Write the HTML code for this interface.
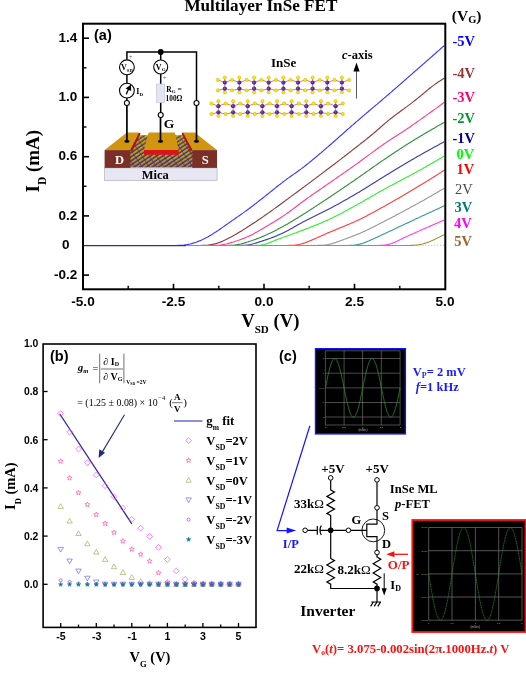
<!DOCTYPE html>
<html><head><meta charset="utf-8"><title>Multilayer InSe FET</title>
<style>
html,body{margin:0;padding:0;background:#fff;}
svg{display:block}
.sf{font-family:"Liberation Serif", "Times New Roman", serif;}
.ss{font-family:"Liberation Sans", Arial, sans-serif;}
text{white-space:pre}
</style></head><body>
<svg width="526" height="676" viewBox="0 0 526 676">
<rect width="526" height="676" fill="#fff"/>
<line x1="83" y1="245.3" x2="445.3" y2="245.3" stroke="#bbb" stroke-width="0.8" stroke-dasharray="1.5 1.5"/>
<path d="M83,245.5 L172.2,245.5 173.2,245.5 174.2,245.5 175.2,245.5 176.2,245.5 177.2,245.5 178.2,245.4 179.2,245.4 180.2,245.4 181.2,245.3 182.2,245.3 183.2,245.2 184.2,245.1 185.2,244.9 186.2,244.8 187.2,244.6 188.2,244.4 189.2,244.2 190.2,244.0 191.2,243.7 192.2,243.4 193.2,243.1 194.2,242.8 195.2,242.5 196.2,242.2 197.2,241.8 198.2,241.4 199.2,241.0 200.2,240.6 201.2,240.2 202.2,239.8 203.2,239.3 204.2,238.8 205.2,238.3 206.2,237.8 207.2,237.2 208.2,236.7 209.2,236.1 210.2,235.5 211.2,234.9 212.2,234.3 213.2,233.6 214.2,233.0 215.2,232.3 216.2,231.7 217.2,231.0 218.2,230.4 219.2,229.7 220.2,229.0 221.2,228.3 222.2,227.6 223.2,226.9 224.2,226.2 225.2,225.5 226.2,224.8 227.2,224.1 228.2,223.4 229.2,222.7 230.2,222.0 231.2,221.3 232.2,220.6 233.2,219.9 234.2,219.2 235.2,218.5 236.2,217.8 237.2,217.1 238.2,216.4 239.2,215.7 240.2,215.0 241.2,214.3 242.2,213.6 243.2,212.9 244.2,212.1 245.2,211.4 246.2,210.7 247.2,210.0 248.2,209.2 249.2,208.5 250.2,207.7 251.2,207.0 252.2,206.2 253.2,205.5 254.2,204.7 255.2,203.9 256.2,203.2 257.2,202.4 258.2,201.6 259.2,200.8 260.2,200.0 261.2,199.3 262.2,198.5 263.2,197.7 264.2,196.9 265.2,196.1 266.2,195.3 267.2,194.5 268.2,193.7 269.2,192.9 270.2,192.1 271.2,191.3 272.2,190.5 273.2,189.7 274.2,188.9 275.2,188.1 276.2,187.3 277.2,186.5 278.2,185.7 279.2,184.9 280.2,184.2 281.2,183.4 282.2,182.6 283.2,181.8 284.2,181.1 285.2,180.3 286.2,179.6 287.2,178.8 288.2,178.1 289.2,177.4 290.2,176.7 291.2,176.0 292.2,175.3 293.2,174.6 294.2,173.9 295.2,173.2 296.2,172.5 297.2,171.8 298.2,171.0 299.2,170.3 300.2,169.6 301.2,168.9 302.2,168.1 303.2,167.3 304.2,166.6 305.2,165.8 306.2,165.0 307.2,164.2 308.2,163.4 309.2,162.6 310.2,161.8 311.2,161.0 312.2,160.1 313.2,159.3 314.2,158.5 315.2,157.6 316.2,156.8 317.2,156.0 318.2,155.1 319.2,154.3 320.2,153.4 321.2,152.6 322.2,151.7 323.2,150.9 324.2,150.0 325.2,149.1 326.2,148.3 327.2,147.4 328.2,146.6 329.2,145.7 330.2,144.8 331.2,144.0 332.2,143.1 333.2,142.2 334.2,141.3 335.2,140.5 336.2,139.6 337.2,138.7 338.2,137.8 339.2,136.9 340.2,136.0 341.2,135.2 342.2,134.3 343.2,133.4 344.2,132.5 345.2,131.6 346.2,130.7 347.2,129.8 348.2,128.9 349.2,128.1 350.2,127.2 351.2,126.3 352.2,125.4 353.2,124.6 354.2,123.7 355.2,122.8 356.2,121.9 357.2,121.1 358.2,120.2 359.2,119.4 360.2,118.5 361.2,117.6 362.2,116.8 363.2,115.9 364.2,115.1 365.2,114.2 366.2,113.4 367.2,112.5 368.2,111.7 369.2,110.8 370.2,110.0 371.2,109.1 372.2,108.3 373.2,107.4 374.2,106.6 375.2,105.8 376.2,104.9 377.2,104.1 378.2,103.2 379.2,102.4 380.2,101.5 381.2,100.7 382.2,99.8 383.2,98.9 384.2,98.1 385.2,97.2 386.2,96.4 387.2,95.5 388.2,94.7 389.2,93.8 390.2,92.9 391.2,92.1 392.2,91.2 393.2,90.3 394.2,89.5 395.2,88.6 396.2,87.7 397.2,86.9 398.2,86.0 399.2,85.1 400.2,84.3 401.2,83.4 402.2,82.5 403.2,81.6 404.2,80.8 405.2,79.9 406.2,79.0 407.2,78.1 408.2,77.3 409.2,76.4 410.2,75.5 411.2,74.6 412.2,73.8 413.2,72.9 414.2,72.0 415.2,71.1 416.2,70.3 417.2,69.4 418.2,68.5 419.2,67.6 420.2,66.8 421.2,65.9 422.2,65.0 423.2,64.1 424.2,63.3 425.2,62.4 426.2,61.5 427.2,60.6 428.2,59.7 429.2,58.9 430.2,58.0 431.2,57.1 432.2,56.2 433.2,55.3 434.2,54.5 435.2,53.6 436.2,52.7 437.2,51.8 438.2,50.9 439.2,50.1 440.2,49.2 441.2,48.3 442.2,47.4 443.2,46.5 444.2,45.6" fill="none" stroke="#3a3aff" stroke-width="1.15" stroke-linejoin="round"/>
<path d="M83,245.5 L196.5,245.5 197.5,245.5 198.5,245.5 199.5,245.5 200.5,245.5 201.5,245.5 202.5,245.4 203.5,245.4 204.5,245.4 205.5,245.3 206.5,245.3 207.5,245.2 208.5,245.1 209.5,244.9 210.5,244.8 211.5,244.6 212.5,244.4 213.5,244.2 214.5,243.9 215.5,243.7 216.5,243.4 217.5,243.1 218.5,242.7 219.5,242.4 220.5,242.0 221.5,241.6 222.5,241.2 223.5,240.7 224.5,240.3 225.5,239.8 226.5,239.3 227.5,238.8 228.5,238.3 229.5,237.8 230.5,237.3 231.5,236.7 232.5,236.2 233.5,235.6 234.5,235.1 235.5,234.5 236.5,233.9 237.5,233.3 238.5,232.7 239.5,232.1 240.5,231.5 241.5,230.9 242.5,230.3 243.5,229.6 244.5,229.0 245.5,228.4 246.5,227.7 247.5,227.1 248.5,226.5 249.5,225.8 250.5,225.2 251.5,224.5 252.5,223.8 253.5,223.2 254.5,222.5 255.5,221.9 256.5,221.2 257.5,220.5 258.5,219.8 259.5,219.2 260.5,218.5 261.5,217.8 262.5,217.1 263.5,216.4 264.5,215.7 265.5,215.0 266.5,214.3 267.5,213.6 268.5,212.9 269.5,212.2 270.5,211.5 271.5,210.8 272.5,210.1 273.5,209.4 274.5,208.6 275.5,207.9 276.5,207.2 277.5,206.5 278.5,205.7 279.5,205.0 280.5,204.3 281.5,203.5 282.5,202.8 283.5,202.0 284.5,201.3 285.5,200.6 286.5,199.8 287.5,199.1 288.5,198.3 289.5,197.6 290.5,196.9 291.5,196.1 292.5,195.4 293.5,194.7 294.5,193.9 295.5,193.2 296.5,192.5 297.5,191.7 298.5,191.0 299.5,190.3 300.5,189.5 301.5,188.8 302.5,188.0 303.5,187.3 304.5,186.6 305.5,185.8 306.5,185.1 307.5,184.3 308.5,183.6 309.5,182.8 310.5,182.1 311.5,181.3 312.5,180.6 313.5,179.8 314.5,179.1 315.5,178.3 316.5,177.6 317.5,176.8 318.5,176.1 319.5,175.3 320.5,174.6 321.5,173.8 322.5,173.1 323.5,172.3 324.5,171.6 325.5,170.8 326.5,170.0 327.5,169.3 328.5,168.5 329.5,167.8 330.5,167.0 331.5,166.2 332.5,165.5 333.5,164.7 334.5,164.0 335.5,163.2 336.5,162.4 337.5,161.7 338.5,160.9 339.5,160.1 340.5,159.4 341.5,158.6 342.5,157.8 343.5,157.1 344.5,156.3 345.5,155.5 346.5,154.8 347.5,154.0 348.5,153.2 349.5,152.4 350.5,151.7 351.5,150.9 352.5,150.1 353.5,149.3 354.5,148.5 355.5,147.8 356.5,147.0 357.5,146.2 358.5,145.4 359.5,144.6 360.5,143.8 361.5,143.0 362.5,142.3 363.5,141.5 364.5,140.7 365.5,139.9 366.5,139.1 367.5,138.3 368.5,137.5 369.5,136.7 370.5,135.8 371.5,135.0 372.5,134.2 373.5,133.4 374.5,132.5 375.5,131.7 376.5,130.8 377.5,129.9 378.5,129.0 379.5,128.2 380.5,127.3 381.5,126.4 382.5,125.5 383.5,124.6 384.5,123.8 385.5,122.9 386.5,122.1 387.5,121.2 388.5,120.4 389.5,119.6 390.5,118.8 391.5,118.0 392.5,117.2 393.5,116.5 394.5,115.7 395.5,114.9 396.5,114.2 397.5,113.5 398.5,112.7 399.5,112.0 400.5,111.3 401.5,110.5 402.5,109.8 403.5,109.1 404.5,108.3 405.5,107.6 406.5,106.9 407.5,106.1 408.5,105.4 409.5,104.6 410.5,103.9 411.5,103.1 412.5,102.4 413.5,101.6 414.5,100.8 415.5,100.0 416.5,99.2 417.5,98.4 418.5,97.6 419.5,96.8 420.5,96.0 421.5,95.1 422.5,94.3 423.5,93.5 424.5,92.6 425.5,91.8 426.5,91.0 427.5,90.1 428.5,89.3 429.5,88.5 430.5,87.7 431.5,86.9 432.5,86.1 433.5,85.4 434.5,84.6 435.5,83.9 436.5,83.2 437.5,82.5 438.5,81.8 439.5,81.2 440.5,80.5 441.5,79.9 442.5,79.3 443.5,78.7 444.5,78.1" fill="none" stroke="#8e3b3b" stroke-width="1.15" stroke-linejoin="round"/>
<path d="M83,245.5 L209.3,245.5 210.3,245.5 211.3,245.5 212.3,245.5 213.3,245.5 214.3,245.4 215.3,245.4 216.3,245.4 217.3,245.3 218.3,245.3 219.3,245.2 220.3,245.1 221.3,244.9 222.3,244.8 223.3,244.6 224.3,244.4 225.3,244.2 226.3,244.0 227.3,243.7 228.3,243.4 229.3,243.2 230.3,242.9 231.3,242.6 232.3,242.3 233.3,242.0 234.3,241.7 235.3,241.3 236.3,241.0 237.3,240.7 238.3,240.3 239.3,240.0 240.3,239.6 241.3,239.3 242.3,238.9 243.3,238.5 244.3,238.1 245.3,237.7 246.3,237.3 247.3,236.8 248.3,236.4 249.3,235.9 250.3,235.4 251.3,234.9 252.3,234.4 253.3,233.9 254.3,233.4 255.3,232.8 256.3,232.3 257.3,231.7 258.3,231.2 259.3,230.6 260.3,230.0 261.3,229.5 262.3,228.9 263.3,228.3 264.3,227.7 265.3,227.1 266.3,226.5 267.3,225.9 268.3,225.3 269.3,224.7 270.3,224.1 271.3,223.5 272.3,222.9 273.3,222.3 274.3,221.7 275.3,221.0 276.3,220.4 277.3,219.8 278.3,219.2 279.3,218.5 280.3,217.9 281.3,217.3 282.3,216.6 283.3,215.9 284.3,215.3 285.3,214.6 286.3,213.9 287.3,213.2 288.3,212.5 289.3,211.8 290.3,211.0 291.3,210.3 292.3,209.6 293.3,208.8 294.3,208.0 295.3,207.3 296.3,206.5 297.3,205.7 298.3,205.0 299.3,204.2 300.3,203.4 301.3,202.7 302.3,202.0 303.3,201.2 304.3,200.5 305.3,199.8 306.3,199.0 307.3,198.3 308.3,197.6 309.3,196.9 310.3,196.2 311.3,195.5 312.3,194.8 313.3,194.1 314.3,193.4 315.3,192.7 316.3,192.0 317.3,191.3 318.3,190.7 319.3,190.0 320.3,189.3 321.3,188.6 322.3,187.9 323.3,187.2 324.3,186.5 325.3,185.8 326.3,185.1 327.3,184.4 328.3,183.7 329.3,183.0 330.3,182.4 331.3,181.7 332.3,181.0 333.3,180.3 334.3,179.6 335.3,178.9 336.3,178.2 337.3,177.5 338.3,176.8 339.3,176.1 340.3,175.4 341.3,174.7 342.3,174.0 343.3,173.3 344.3,172.6 345.3,171.9 346.3,171.2 347.3,170.5 348.3,169.8 349.3,169.1 350.3,168.4 351.3,167.7 352.3,167.0 353.3,166.3 354.3,165.6 355.3,164.8 356.3,164.1 357.3,163.4 358.3,162.7 359.3,162.0 360.3,161.2 361.3,160.5 362.3,159.8 363.3,159.0 364.3,158.3 365.3,157.6 366.3,156.8 367.3,156.1 368.3,155.3 369.3,154.6 370.3,153.9 371.3,153.1 372.3,152.4 373.3,151.6 374.3,150.9 375.3,150.2 376.3,149.4 377.3,148.7 378.3,148.0 379.3,147.3 380.3,146.6 381.3,145.9 382.3,145.2 383.3,144.5 384.3,143.8 385.3,143.1 386.3,142.4 387.3,141.7 388.3,141.1 389.3,140.4 390.3,139.8 391.3,139.1 392.3,138.5 393.3,137.8 394.3,137.2 395.3,136.5 396.3,135.9 397.3,135.3 398.3,134.6 399.3,134.0 400.3,133.3 401.3,132.7 402.3,132.0 403.3,131.4 404.3,130.7 405.3,130.1 406.3,129.4 407.3,128.7 408.3,128.0 409.3,127.4 410.3,126.7 411.3,126.0 412.3,125.3 413.3,124.6 414.3,123.9 415.3,123.2 416.3,122.5 417.3,121.8 418.3,121.1 419.3,120.4 420.3,119.6 421.3,118.9 422.3,118.2 423.3,117.5 424.3,116.8 425.3,116.1 426.3,115.4 427.3,114.6 428.3,113.9 429.3,113.2 430.3,112.5 431.3,111.8 432.3,111.0 433.3,110.3 434.3,109.6 435.3,108.9 436.3,108.1 437.3,107.4 438.3,106.7 439.3,105.9 440.3,105.2 441.3,104.5 442.3,103.7 443.3,103.0 444.3,102.3" fill="none" stroke="#ff3d8e" stroke-width="1.15" stroke-linejoin="round"/>
<path d="M83,245.5 L223.6,245.5 224.6,245.5 225.6,245.5 226.6,245.5 227.6,245.5 228.6,245.4 229.6,245.4 230.6,245.4 231.6,245.3 232.6,245.3 233.6,245.2 234.6,245.1 235.6,244.9 236.6,244.8 237.6,244.6 238.6,244.4 239.6,244.2 240.6,244.0 241.6,243.7 242.6,243.4 243.6,243.2 244.6,242.9 245.6,242.6 246.6,242.3 247.6,242.0 248.6,241.6 249.6,241.3 250.6,241.0 251.6,240.7 252.6,240.3 253.6,240.0 254.6,239.6 255.6,239.3 256.6,238.9 257.6,238.5 258.6,238.1 259.6,237.8 260.6,237.4 261.6,236.9 262.6,236.5 263.6,236.1 264.6,235.7 265.6,235.2 266.6,234.8 267.6,234.3 268.6,233.8 269.6,233.4 270.6,232.9 271.6,232.4 272.6,231.9 273.6,231.4 274.6,230.9 275.6,230.4 276.6,229.9 277.6,229.4 278.6,228.8 279.6,228.3 280.6,227.8 281.6,227.2 282.6,226.7 283.6,226.1 284.6,225.6 285.6,225.0 286.6,224.5 287.6,223.9 288.6,223.3 289.6,222.7 290.6,222.1 291.6,221.5 292.6,220.9 293.6,220.3 294.6,219.7 295.6,219.1 296.6,218.5 297.6,217.9 298.6,217.3 299.6,216.6 300.6,216.0 301.6,215.4 302.6,214.8 303.6,214.1 304.6,213.5 305.6,212.9 306.6,212.2 307.6,211.6 308.6,210.9 309.6,210.3 310.6,209.6 311.6,209.0 312.6,208.4 313.6,207.7 314.6,207.1 315.6,206.4 316.6,205.7 317.6,205.1 318.6,204.4 319.6,203.8 320.6,203.1 321.6,202.5 322.6,201.8 323.6,201.1 324.6,200.5 325.6,199.8 326.6,199.2 327.6,198.5 328.6,197.8 329.6,197.2 330.6,196.5 331.6,195.8 332.6,195.1 333.6,194.5 334.6,193.8 335.6,193.1 336.6,192.5 337.6,191.8 338.6,191.1 339.6,190.4 340.6,189.7 341.6,189.1 342.6,188.4 343.6,187.7 344.6,187.0 345.6,186.3 346.6,185.7 347.6,185.0 348.6,184.3 349.6,183.6 350.6,182.9 351.6,182.2 352.6,181.5 353.6,180.9 354.6,180.2 355.6,179.5 356.6,178.8 357.6,178.1 358.6,177.4 359.6,176.7 360.6,176.0 361.6,175.3 362.6,174.6 363.6,173.9 364.6,173.2 365.6,172.5 366.6,171.8 367.6,171.1 368.6,170.4 369.6,169.7 370.6,169.0 371.6,168.2 372.6,167.5 373.6,166.8 374.6,166.1 375.6,165.4 376.6,164.7 377.6,164.0 378.6,163.3 379.6,162.6 380.6,162.0 381.6,161.3 382.6,160.6 383.6,159.9 384.6,159.2 385.6,158.5 386.6,157.9 387.6,157.2 388.6,156.5 389.6,155.8 390.6,155.2 391.6,154.5 392.6,153.8 393.6,153.2 394.6,152.5 395.6,151.8 396.6,151.2 397.6,150.5 398.6,149.9 399.6,149.2 400.6,148.6 401.6,147.9 402.6,147.3 403.6,146.6 404.6,146.0 405.6,145.3 406.6,144.7 407.6,144.1 408.6,143.4 409.6,142.8 410.6,142.2 411.6,141.6 412.6,140.9 413.6,140.3 414.6,139.7 415.6,139.1 416.6,138.5 417.6,137.9 418.6,137.3 419.6,136.7 420.6,136.1 421.6,135.5 422.6,134.9 423.6,134.3 424.6,133.7 425.6,133.1 426.6,132.5 427.6,131.9 428.6,131.3 429.6,130.7 430.6,130.2 431.6,129.6 432.6,129.0 433.6,128.4 434.6,127.9 435.6,127.3 436.6,126.7 437.6,126.1 438.6,125.6 439.6,125.0 440.6,124.5 441.6,123.9 442.6,123.3 443.6,122.8 444.6,122.2" fill="none" stroke="#2f8f3a" stroke-width="1.15" stroke-linejoin="round"/>
<path d="M83,245.5 L236.4,245.5 237.4,245.5 238.4,245.5 239.4,245.5 240.4,245.5 241.4,245.4 242.4,245.4 243.4,245.4 244.4,245.3 245.4,245.2 246.4,245.1 247.4,245.0 248.4,244.9 249.4,244.7 250.4,244.5 251.4,244.2 252.4,244.0 253.4,243.7 254.4,243.5 255.4,243.2 256.4,242.9 257.4,242.5 258.4,242.2 259.4,241.9 260.4,241.6 261.4,241.3 262.4,240.9 263.4,240.6 264.4,240.3 265.4,239.9 266.4,239.6 267.4,239.2 268.4,238.9 269.4,238.5 270.4,238.2 271.4,237.8 272.4,237.4 273.4,237.1 274.4,236.7 275.4,236.3 276.4,235.9 277.4,235.4 278.4,235.0 279.4,234.6 280.4,234.1 281.4,233.7 282.4,233.2 283.4,232.7 284.4,232.2 285.4,231.7 286.4,231.2 287.4,230.7 288.4,230.2 289.4,229.6 290.4,229.1 291.4,228.5 292.4,228.0 293.4,227.4 294.4,226.8 295.4,226.3 296.4,225.7 297.4,225.1 298.4,224.5 299.4,224.0 300.4,223.4 301.4,222.9 302.4,222.3 303.4,221.8 304.4,221.3 305.4,220.8 306.4,220.3 307.4,219.7 308.4,219.2 309.4,218.7 310.4,218.2 311.4,217.7 312.4,217.3 313.4,216.8 314.4,216.3 315.4,215.8 316.4,215.3 317.4,214.8 318.4,214.3 319.4,213.8 320.4,213.3 321.4,212.8 322.4,212.3 323.4,211.8 324.4,211.3 325.4,210.8 326.4,210.3 327.4,209.8 328.4,209.3 329.4,208.8 330.4,208.2 331.4,207.7 332.4,207.2 333.4,206.6 334.4,206.1 335.4,205.5 336.4,205.0 337.4,204.5 338.4,203.9 339.4,203.4 340.4,202.8 341.4,202.2 342.4,201.7 343.4,201.1 344.4,200.6 345.4,200.0 346.4,199.4 347.4,198.9 348.4,198.3 349.4,197.7 350.4,197.1 351.4,196.6 352.4,196.0 353.4,195.4 354.4,194.8 355.4,194.2 356.4,193.6 357.4,193.0 358.4,192.5 359.4,191.9 360.4,191.3 361.4,190.6 362.4,190.0 363.4,189.4 364.4,188.8 365.4,188.2 366.4,187.6 367.4,187.0 368.4,186.3 369.4,185.7 370.4,185.1 371.4,184.5 372.4,183.8 373.4,183.2 374.4,182.6 375.4,182.0 376.4,181.3 377.4,180.7 378.4,180.1 379.4,179.4 380.4,178.8 381.4,178.2 382.4,177.6 383.4,177.0 384.4,176.3 385.4,175.7 386.4,175.1 387.4,174.5 388.4,173.9 389.4,173.3 390.4,172.7 391.4,172.1 392.4,171.5 393.4,170.8 394.4,170.2 395.4,169.6 396.4,169.0 397.4,168.4 398.4,167.8 399.4,167.2 400.4,166.6 401.4,166.0 402.4,165.4 403.4,164.8 404.4,164.2 405.4,163.6 406.4,163.0 407.4,162.4 408.4,161.8 409.4,161.3 410.4,160.7 411.4,160.1 412.4,159.5 413.4,158.9 414.4,158.3 415.4,157.8 416.4,157.2 417.4,156.6 418.4,156.0 419.4,155.5 420.4,154.9 421.4,154.3 422.4,153.8 423.4,153.2 424.4,152.6 425.4,152.1 426.4,151.5 427.4,151.0 428.4,150.4 429.4,149.8 430.4,149.3 431.4,148.7 432.4,148.2 433.4,147.6 434.4,147.1 435.4,146.5 436.4,146.0 437.4,145.4 438.4,144.9 439.4,144.3 440.4,143.8 441.4,143.3 442.4,142.7 443.4,142.2 444.4,141.6" fill="none" stroke="#3a3ab8" stroke-width="1.15" stroke-linejoin="round"/>
<path d="M83,245.5 L252.1,245.5 253.1,245.5 254.1,245.5 255.1,245.5 256.1,245.4 257.1,245.4 258.1,245.4 259.1,245.3 260.1,245.2 261.1,245.1 262.1,244.9 263.1,244.7 264.1,244.5 265.1,244.2 266.1,243.9 267.1,243.6 268.1,243.2 269.1,242.8 270.1,242.4 271.1,242.0 272.1,241.6 273.1,241.2 274.1,240.8 275.1,240.4 276.1,240.0 277.1,239.6 278.1,239.2 279.1,238.8 280.1,238.4 281.1,238.1 282.1,237.7 283.1,237.3 284.1,237.0 285.1,236.6 286.1,236.3 287.1,235.9 288.1,235.6 289.1,235.2 290.1,234.8 291.1,234.5 292.1,234.1 293.1,233.8 294.1,233.4 295.1,233.0 296.1,232.7 297.1,232.3 298.1,231.9 299.1,231.6 300.1,231.2 301.1,230.8 302.1,230.4 303.1,230.1 304.1,229.7 305.1,229.3 306.1,228.9 307.1,228.5 308.1,228.2 309.1,227.8 310.1,227.4 311.1,227.0 312.1,226.6 313.1,226.2 314.1,225.8 315.1,225.4 316.1,225.0 317.1,224.6 318.1,224.2 319.1,223.8 320.1,223.4 321.1,223.0 322.1,222.6 323.1,222.1 324.1,221.7 325.1,221.3 326.1,220.8 327.1,220.4 328.1,219.9 329.1,219.5 330.1,219.0 331.1,218.5 332.1,218.1 333.1,217.6 334.1,217.1 335.1,216.6 336.1,216.1 337.1,215.6 338.1,215.0 339.1,214.5 340.1,214.0 341.1,213.5 342.1,212.9 343.1,212.4 344.1,211.8 345.1,211.3 346.1,210.8 347.1,210.2 348.1,209.7 349.1,209.1 350.1,208.6 351.1,208.0 352.1,207.4 353.1,206.9 354.1,206.3 355.1,205.8 356.1,205.2 357.1,204.7 358.1,204.1 359.1,203.5 360.1,203.0 361.1,202.4 362.1,201.9 363.1,201.3 364.1,200.7 365.1,200.1 366.1,199.6 367.1,199.0 368.1,198.4 369.1,197.9 370.1,197.3 371.1,196.7 372.1,196.1 373.1,195.5 374.1,195.0 375.1,194.4 376.1,193.8 377.1,193.3 378.1,192.7 379.1,192.1 380.1,191.5 381.1,191.0 382.1,190.4 383.1,189.9 384.1,189.3 385.1,188.8 386.1,188.2 387.1,187.7 388.1,187.1 389.1,186.6 390.1,186.0 391.1,185.5 392.1,185.0 393.1,184.4 394.1,183.9 395.1,183.4 396.1,182.9 397.1,182.3 398.1,181.8 399.1,181.3 400.1,180.8 401.1,180.2 402.1,179.7 403.1,179.2 404.1,178.7 405.1,178.1 406.1,177.6 407.1,177.1 408.1,176.5 409.1,176.0 410.1,175.5 411.1,174.9 412.1,174.4 413.1,173.8 414.1,173.3 415.1,172.8 416.1,172.2 417.1,171.6 418.1,171.1 419.1,170.5 420.1,170.0 421.1,169.4 422.1,168.9 423.1,168.3 424.1,167.7 425.1,167.2 426.1,166.6 427.1,166.0 428.1,165.5 429.1,164.9 430.1,164.3 431.1,163.7 432.1,163.2 433.1,162.6 434.1,162.0 435.1,161.4 436.1,160.8 437.1,160.2 438.1,159.7 439.1,159.1 440.1,158.5 441.1,157.9 442.1,157.3 443.1,156.7 444.1,156.2" fill="none" stroke="#33ee33" stroke-width="1.15" stroke-linejoin="round"/>
<path d="M83,245.5 L282.0,245.5 283.0,245.5 284.0,245.5 285.0,245.5 286.0,245.5 287.0,245.5 288.0,245.5 289.0,245.4 290.0,245.4 291.0,245.4 292.0,245.3 293.0,245.3 294.0,245.2 295.0,245.1 296.0,245.0 297.0,244.8 298.0,244.7 299.0,244.5 300.0,244.3 301.0,244.0 302.0,243.7 303.0,243.4 304.0,243.1 305.0,242.8 306.0,242.4 307.0,242.0 308.0,241.6 309.0,241.2 310.0,240.8 311.0,240.4 312.0,239.9 313.0,239.5 314.0,239.1 315.0,238.6 316.0,238.2 317.0,237.7 318.0,237.3 319.0,236.9 320.0,236.4 321.0,236.0 322.0,235.5 323.0,235.1 324.0,234.7 325.0,234.2 326.0,233.8 327.0,233.3 328.0,232.9 329.0,232.5 330.0,232.1 331.0,231.6 332.0,231.2 333.0,230.8 334.0,230.4 335.0,230.0 336.0,229.6 337.0,229.1 338.0,228.7 339.0,228.3 340.0,227.9 341.0,227.5 342.0,227.1 343.0,226.7 344.0,226.3 345.0,225.9 346.0,225.4 347.0,225.0 348.0,224.6 349.0,224.2 350.0,223.8 351.0,223.3 352.0,222.9 353.0,222.4 354.0,222.0 355.0,221.5 356.0,221.1 357.0,220.6 358.0,220.1 359.0,219.7 360.0,219.2 361.0,218.7 362.0,218.2 363.0,217.7 364.0,217.2 365.0,216.7 366.0,216.2 367.0,215.7 368.0,215.1 369.0,214.6 370.0,214.1 371.0,213.5 372.0,213.0 373.0,212.5 374.0,211.9 375.0,211.4 376.0,210.8 377.0,210.3 378.0,209.7 379.0,209.2 380.0,208.6 381.0,208.1 382.0,207.5 383.0,207.0 384.0,206.4 385.0,205.9 386.0,205.3 387.0,204.7 388.0,204.2 389.0,203.6 390.0,203.0 391.0,202.5 392.0,201.9 393.0,201.3 394.0,200.8 395.0,200.2 396.0,199.6 397.0,199.1 398.0,198.5 399.0,197.9 400.0,197.3 401.0,196.7 402.0,196.2 403.0,195.6 404.0,195.0 405.0,194.4 406.0,193.8 407.0,193.2 408.0,192.6 409.0,192.0 410.0,191.4 411.0,190.8 412.0,190.2 413.0,189.6 414.0,189.0 415.0,188.4 416.0,187.8 417.0,187.2 418.0,186.6 419.0,186.0 420.0,185.4 421.0,184.8 422.0,184.2 423.0,183.6 424.0,183.0 425.0,182.4 426.0,181.8 427.0,181.1 428.0,180.5 429.0,179.9 430.0,179.3 431.0,178.7 432.0,178.0 433.0,177.4 434.0,176.8 435.0,176.2 436.0,175.5 437.0,174.9 438.0,174.3 439.0,173.6 440.0,173.0 441.0,172.4 442.0,171.7 443.0,171.1 444.0,170.5 445.0,169.9" fill="none" stroke="#ff4040" stroke-width="1.15" stroke-linejoin="round"/>
<path d="M83,245.5 L312.2,245.5 313.2,245.5 314.2,245.5 315.2,245.5 316.2,245.5 317.2,245.5 318.2,245.4 319.2,245.4 320.2,245.4 321.2,245.3 322.2,245.3 323.2,245.2 324.2,245.1 325.2,245.0 326.2,244.8 327.2,244.7 328.2,244.5 329.2,244.3 330.2,244.1 331.2,243.8 332.2,243.5 333.2,243.2 334.2,242.9 335.2,242.6 336.2,242.3 337.2,241.9 338.2,241.5 339.2,241.2 340.2,240.8 341.2,240.4 342.2,240.1 343.2,239.7 344.2,239.3 345.2,239.0 346.2,238.6 347.2,238.2 348.2,237.9 349.2,237.5 350.2,237.1 351.2,236.8 352.2,236.4 353.2,236.0 354.2,235.6 355.2,235.2 356.2,234.8 357.2,234.4 358.2,234.0 359.2,233.6 360.2,233.2 361.2,232.7 362.2,232.3 363.2,231.8 364.2,231.4 365.2,230.9 366.2,230.4 367.2,230.0 368.2,229.5 369.2,229.0 370.2,228.5 371.2,228.0 372.2,227.5 373.2,227.0 374.2,226.5 375.2,226.0 376.2,225.5 377.2,225.0 378.2,224.4 379.2,223.9 380.2,223.4 381.2,222.9 382.2,222.4 383.2,221.9 384.2,221.4 385.2,220.8 386.2,220.3 387.2,219.8 388.2,219.3 389.2,218.8 390.2,218.3 391.2,217.7 392.2,217.2 393.2,216.7 394.2,216.2 395.2,215.7 396.2,215.1 397.2,214.6 398.2,214.1 399.2,213.5 400.2,213.0 401.2,212.5 402.2,212.0 403.2,211.4 404.2,210.9 405.2,210.3 406.2,209.8 407.2,209.3 408.2,208.7 409.2,208.2 410.2,207.6 411.2,207.1 412.2,206.5 413.2,206.0 414.2,205.4 415.2,204.9 416.2,204.3 417.2,203.8 418.2,203.2 419.2,202.7 420.2,202.1 421.2,201.5 422.2,201.0 423.2,200.4 424.2,199.9 425.2,199.3 426.2,198.7 427.2,198.2 428.2,197.6 429.2,197.0 430.2,196.4 431.2,195.9 432.2,195.3 433.2,194.7 434.2,194.1 435.2,193.5 436.2,193.0 437.2,192.4 438.2,191.8 439.2,191.2 440.2,190.6 441.2,190.0 442.2,189.4 443.2,188.9 444.2,188.3" fill="none" stroke="#999999" stroke-width="1.15" stroke-linejoin="round"/>
<path d="M83,245.5 L343.6,245.5 344.6,245.5 345.6,245.5 346.6,245.5 347.6,245.5 348.6,245.5 349.6,245.4 350.6,245.4 351.6,245.4 352.6,245.3 353.6,245.2 354.6,245.1 355.6,245.0 356.6,244.8 357.6,244.6 358.6,244.4 359.6,244.2 360.6,243.9 361.6,243.6 362.6,243.3 363.6,242.9 364.6,242.6 365.6,242.2 366.6,241.8 367.6,241.4 368.6,241.0 369.6,240.5 370.6,240.1 371.6,239.6 372.6,239.2 373.6,238.7 374.6,238.3 375.6,237.8 376.6,237.4 377.6,236.9 378.6,236.4 379.6,236.0 380.6,235.5 381.6,235.0 382.6,234.6 383.6,234.1 384.6,233.7 385.6,233.2 386.6,232.7 387.6,232.3 388.6,231.8 389.6,231.3 390.6,230.9 391.6,230.4 392.6,229.9 393.6,229.4 394.6,229.0 395.6,228.5 396.6,228.0 397.6,227.6 398.6,227.1 399.6,226.6 400.6,226.1 401.6,225.7 402.6,225.2 403.6,224.7 404.6,224.3 405.6,223.8 406.6,223.3 407.6,222.9 408.6,222.4 409.6,221.9 410.6,221.4 411.6,221.0 412.6,220.5 413.6,220.0 414.6,219.6 415.6,219.1 416.6,218.6 417.6,218.2 418.6,217.7 419.6,217.2 420.6,216.8 421.6,216.3 422.6,215.8 423.6,215.4 424.6,214.9 425.6,214.5 426.6,214.0 427.6,213.5 428.6,213.1 429.6,212.6 430.6,212.1 431.6,211.7 432.6,211.2 433.6,210.7 434.6,210.3 435.6,209.8 436.6,209.4 437.6,208.9 438.6,208.4 439.6,208.0 440.6,207.5 441.6,207.1 442.6,206.6 443.6,206.1 444.6,205.7" fill="none" stroke="#3a9a9a" stroke-width="1.15" stroke-linejoin="round"/>
<path d="M83,245.5 L373.5,245.5 374.5,245.5 375.5,245.5 376.5,245.5 377.5,245.5 378.5,245.5 379.5,245.4 380.5,245.4 381.5,245.4 382.5,245.3 383.5,245.2 384.5,245.1 385.5,245.0 386.5,244.8 387.5,244.6 388.5,244.4 389.5,244.1 390.5,243.8 391.5,243.5 392.5,243.1 393.5,242.7 394.5,242.3 395.5,241.9 396.5,241.4 397.5,240.9 398.5,240.5 399.5,240.0 400.5,239.5 401.5,239.0 402.5,238.5 403.5,238.1 404.5,237.6 405.5,237.1 406.5,236.7 407.5,236.2 408.5,235.7 409.5,235.3 410.5,234.8 411.5,234.4 412.5,233.9 413.5,233.5 414.5,233.0 415.5,232.6 416.5,232.1 417.5,231.7 418.5,231.2 419.5,230.8 420.5,230.3 421.5,229.9 422.5,229.5 423.5,229.0 424.5,228.6 425.5,228.1 426.5,227.7 427.5,227.3 428.5,226.8 429.5,226.4 430.5,225.9 431.5,225.5 432.5,225.1 433.5,224.6 434.5,224.2 435.5,223.8 436.5,223.4 437.5,222.9 438.5,222.5 439.5,222.1 440.5,221.6 441.5,221.2 442.5,220.8 443.5,220.4 444.5,219.9" fill="none" stroke="#ff40ff" stroke-width="1.15" stroke-linejoin="round"/>
<path d="M83,245.5 L403.5,245.5 404.5,245.5 405.5,245.5 406.5,245.5 407.5,245.5 408.5,245.5 409.5,245.5 410.5,245.4 411.5,245.4 412.5,245.4 413.5,245.3 414.5,245.3 415.5,245.2 416.5,245.1 417.5,245.0 418.5,244.8 419.5,244.6 420.5,244.4 421.5,244.2 422.5,244.0 423.5,243.7 424.5,243.4 425.5,243.1 426.5,242.8 427.5,242.4 428.5,242.1 429.5,241.7 430.5,241.2 431.5,240.8 432.5,240.4 433.5,239.9 434.5,239.4 435.5,239.0 436.5,238.5 437.5,238.0 438.5,237.5 439.5,237.0 440.5,236.4 441.5,235.9 442.5,235.4 443.5,234.9 444.5,234.3" fill="none" stroke="#9a9a3a" stroke-width="1.15" stroke-linejoin="round"/>
<line x1="83" y1="245.5" x2="186" y2="245.5" stroke="#34347c" stroke-width="1.25"/>
<rect x="83" y="23.7" width="362.3" height="265.6" fill="none" stroke="#000" stroke-width="2"/>
<line x1="83" y1="38.2" x2="89" y2="38.2" stroke="#000" stroke-width="1.6"/>
<text class="ss" x="77.3" y="41.8" fill="#000" text-anchor="end" style="font-size:13.5px;font-weight:bold;" >1.4</text>
<line x1="83" y1="97.4" x2="89" y2="97.4" stroke="#000" stroke-width="1.6"/>
<text class="ss" x="77.3" y="101.0" fill="#000" text-anchor="end" style="font-size:13.5px;font-weight:bold;" >1.0</text>
<line x1="83" y1="156.7" x2="89" y2="156.7" stroke="#000" stroke-width="1.6"/>
<text class="ss" x="77.3" y="160.3" fill="#000" text-anchor="end" style="font-size:13.5px;font-weight:bold;" >0.6</text>
<line x1="83" y1="215.9" x2="89" y2="215.9" stroke="#000" stroke-width="1.6"/>
<text class="ss" x="77.3" y="219.5" fill="#000" text-anchor="end" style="font-size:13.5px;font-weight:bold;" >0.2</text>
<text class="ss" x="65.8" y="249.3" fill="#000" text-anchor="middle" style="font-size:13.5px;font-weight:bold;" >0</text>
<line x1="83" y1="275.1" x2="89" y2="275.1" stroke="#000" stroke-width="1.6"/>
<text class="ss" x="77.3" y="278.7" fill="#000" text-anchor="end" style="font-size:13.5px;font-weight:bold;" >-0.2</text>
<line x1="83" y1="67.8" x2="86.5" y2="67.8" stroke="#000" stroke-width="1.4"/>
<line x1="83" y1="127.0" x2="86.5" y2="127.0" stroke="#000" stroke-width="1.4"/>
<line x1="83" y1="186.3" x2="86.5" y2="186.3" stroke="#000" stroke-width="1.4"/>
<text class="ss" x="83.0" y="306.4" fill="#000" text-anchor="middle" style="font-size:13.6px;font-weight:bold;" >-5.0</text>
<line x1="173.5" y1="289.3" x2="173.5" y2="283.8" stroke="#000" stroke-width="1.6"/>
<text class="ss" x="173.5" y="306.4" fill="#000" text-anchor="middle" style="font-size:13.6px;font-weight:bold;" >-2.5</text>
<line x1="264.0" y1="289.3" x2="264.0" y2="283.8" stroke="#000" stroke-width="1.6"/>
<text class="ss" x="264.0" y="306.4" fill="#000" text-anchor="middle" style="font-size:13.6px;font-weight:bold;" >0.0</text>
<line x1="354.5" y1="289.3" x2="354.5" y2="283.8" stroke="#000" stroke-width="1.6"/>
<text class="ss" x="354.5" y="306.4" fill="#000" text-anchor="middle" style="font-size:13.6px;font-weight:bold;" >2.5</text>
<text class="ss" x="445.0" y="306.4" fill="#000" text-anchor="middle" style="font-size:13.6px;font-weight:bold;" >5.0</text>
<line x1="128.2" y1="289.3" x2="128.2" y2="285.8" stroke="#000" stroke-width="1.4"/>
<line x1="218.8" y1="289.3" x2="218.8" y2="285.8" stroke="#000" stroke-width="1.4"/>
<line x1="309.2" y1="289.3" x2="309.2" y2="285.8" stroke="#000" stroke-width="1.4"/>
<line x1="399.8" y1="289.3" x2="399.8" y2="285.8" stroke="#000" stroke-width="1.4"/>
<text class="sf" x="260.9" y="10.9" fill="#000" text-anchor="middle" style="font-size:17px;font-weight:bold;" textLength="153" lengthAdjust="spacingAndGlyphs">Multilayer InSe FET</text>
<text class="ss" x="94.0" y="40.3" fill="#000" text-anchor="start" style="font-size:14.5px;font-weight:bold;" >(a)</text>
<text class="sf" transform="translate(38.5,192.5) rotate(-90)" style="font-size:19px;font-weight:bold">I<tspan dy="7" style="font-size:11.5px">D</tspan><tspan dy="-7"> (mA)</tspan></text>
<text class="sf" x="241.2" y="326.6" style="font-size:18.7px;font-weight:bold">V<tspan dy="6.6" style="font-size:11px">SD</tspan><tspan dy="-6.6"> (V)</tspan></text>
<text class="sf" x="451.8" y="20.8" style="font-size:15.5px;font-weight:bold">(V<tspan dy="2.5" style="font-size:10.5px">G</tspan><tspan dy="-2.5">)</tspan></text>
<text class="sf" x="452.5" y="46.1" fill="#0000ff" text-anchor="start" style="font-size:14.5px;font-weight:bold;" >-5V</text>
<text class="sf" x="452.5" y="78.0" fill="#993333" text-anchor="start" style="font-size:14.5px;font-weight:bold;" >-4V</text>
<text class="sf" x="452.5" y="101.8" fill="#ff0066" text-anchor="start" style="font-size:14.5px;font-weight:bold;" >-3V</text>
<text class="sf" x="452.5" y="122.5" fill="#009933" text-anchor="start" style="font-size:14.5px;font-weight:bold;" >-2V</text>
<text class="sf" x="452.5" y="142.5" fill="#000099" text-anchor="start" style="font-size:14.5px;font-weight:bold;" >-1V</text>
<text class="sf" x="456.5" y="158.5" fill="#00ff00" text-anchor="start" style="font-size:14.5px;font-weight:bold;" >0V</text>
<text class="sf" x="456.5" y="174.2" fill="#ff0000" text-anchor="start" style="font-size:14.5px;font-weight:bold;" >1V</text>
<text class="sf" x="455.0" y="194.4" fill="#484848" text-anchor="start" style="font-size:14.5px;font-weight:normal;" >2V</text>
<text class="sf" x="454.5" y="212.3" fill="#007777" text-anchor="start" style="font-size:14.5px;font-weight:bold;" >3V</text>
<text class="sf" x="454.0" y="227.8" fill="#ff00ff" text-anchor="start" style="font-size:14.5px;font-weight:bold;" >4V</text>
<text class="sf" x="454.3" y="245.8" fill="#996633" text-anchor="start" style="font-size:14.5px;font-weight:bold;" >5V</text>
<text class="sf" x="342" y="59" style="font-size:12.5px;font-weight:bold"><tspan style="font-style:italic">c</tspan>-axis</text>
<line x1="356.5" y1="98.6" x2="356.5" y2="70" stroke="#000" stroke-width="0.65"/>
<path d="M356.5,62.5 L359.6,71.5 L353.4,71.5 Z" fill="#000"/>
<text class="sf" x="271.0" y="66.7" fill="#000" text-anchor="start" style="font-size:13px;font-weight:bold;" >InSe</text>
<path d="M224.8,82.6 V88.7 M224.8,82.6 L224.8,77.6 M224.8,82.6 L217.8,79.9 M224.8,82.6 L232.0,79.9 M224.8,88.7 L224.8,92.3 M224.8,88.7 L217.8,90.4 M224.8,88.7 L232.0,90.4" stroke="#c8785a" stroke-width="0.9" fill="none"/><path d="M239.4,82.6 V88.7 M239.4,82.6 L239.4,77.6 M239.4,82.6 L232.4,79.9 M239.4,82.6 L246.6,79.9 M239.4,88.7 L239.4,92.3 M239.4,88.7 L232.4,90.4 M239.4,88.7 L246.6,90.4" stroke="#c8785a" stroke-width="0.9" fill="none"/><path d="M254.1,82.6 V88.7 M254.1,82.6 L254.1,77.6 M254.1,82.6 L247.1,79.9 M254.1,82.6 L261.3,79.9 M254.1,88.7 L254.1,92.3 M254.1,88.7 L247.1,90.4 M254.1,88.7 L261.3,90.4" stroke="#c8785a" stroke-width="0.9" fill="none"/><path d="M268.7,82.6 V88.7 M268.7,82.6 L268.7,77.6 M268.7,82.6 L261.7,79.9 M268.7,82.6 L275.9,79.9 M268.7,88.7 L268.7,92.3 M268.7,88.7 L261.7,90.4 M268.7,88.7 L275.9,90.4" stroke="#c8785a" stroke-width="0.9" fill="none"/><path d="M283.4,82.6 V88.7 M283.4,82.6 L283.4,77.6 M283.4,82.6 L276.4,79.9 M283.4,82.6 L290.6,79.9 M283.4,88.7 L283.4,92.3 M283.4,88.7 L276.4,90.4 M283.4,88.7 L290.6,90.4" stroke="#c8785a" stroke-width="0.9" fill="none"/><path d="M298.0,82.6 V88.7 M298.0,82.6 L298.0,77.6 M298.0,82.6 L291.0,79.9 M298.0,82.6 L305.2,79.9 M298.0,88.7 L298.0,92.3 M298.0,88.7 L291.0,90.4 M298.0,88.7 L305.2,90.4" stroke="#c8785a" stroke-width="0.9" fill="none"/><path d="M312.6,82.6 V88.7 M312.6,82.6 L312.6,77.6 M312.6,82.6 L305.6,79.9 M312.6,82.6 L319.8,79.9 M312.6,88.7 L312.6,92.3 M312.6,88.7 L305.6,90.4 M312.6,88.7 L319.8,90.4" stroke="#c8785a" stroke-width="0.9" fill="none"/><path d="M327.3,82.6 V88.7 M327.3,82.6 L327.3,77.6 M327.3,82.6 L320.3,79.9 M327.3,82.6 L334.5,79.9 M327.3,88.7 L327.3,92.3 M327.3,88.7 L320.3,90.4 M327.3,88.7 L334.5,90.4" stroke="#c8785a" stroke-width="0.9" fill="none"/><path d="M341.9,82.6 V88.7 M341.9,82.6 L341.9,77.6 M341.9,82.6 L334.9,79.9 M341.9,82.6 L349.1,79.9 M341.9,88.7 L341.9,92.3 M341.9,88.7 L334.9,90.4 M341.9,88.7 L349.1,90.4" stroke="#c8785a" stroke-width="0.9" fill="none"/>
<circle cx="224.8" cy="77.6" r="1.65" fill="#ffe600" stroke="#c8a800" stroke-width="0.45"/>
<circle cx="224.8" cy="92.3" r="1.65" fill="#ffe600" stroke="#c8a800" stroke-width="0.45"/>
<circle cx="232.0" cy="79.9" r="1.65" fill="#ffe600" stroke="#c8a800" stroke-width="0.45"/>
<circle cx="232.0" cy="90.4" r="1.65" fill="#ffe600" stroke="#c8a800" stroke-width="0.45"/>
<circle cx="217.8" cy="79.9" r="1.65" fill="#ffe600" stroke="#c8a800" stroke-width="0.45"/>
<circle cx="217.8" cy="90.4" r="1.65" fill="#ffe600" stroke="#c8a800" stroke-width="0.45"/>
<circle cx="239.4" cy="77.6" r="1.65" fill="#ffe600" stroke="#c8a800" stroke-width="0.45"/>
<circle cx="239.4" cy="92.3" r="1.65" fill="#ffe600" stroke="#c8a800" stroke-width="0.45"/>
<circle cx="246.6" cy="79.9" r="1.65" fill="#ffe600" stroke="#c8a800" stroke-width="0.45"/>
<circle cx="246.6" cy="90.4" r="1.65" fill="#ffe600" stroke="#c8a800" stroke-width="0.45"/>
<circle cx="254.1" cy="77.6" r="1.65" fill="#ffe600" stroke="#c8a800" stroke-width="0.45"/>
<circle cx="254.1" cy="92.3" r="1.65" fill="#ffe600" stroke="#c8a800" stroke-width="0.45"/>
<circle cx="261.3" cy="79.9" r="1.65" fill="#ffe600" stroke="#c8a800" stroke-width="0.45"/>
<circle cx="261.3" cy="90.4" r="1.65" fill="#ffe600" stroke="#c8a800" stroke-width="0.45"/>
<circle cx="268.7" cy="77.6" r="1.65" fill="#ffe600" stroke="#c8a800" stroke-width="0.45"/>
<circle cx="268.7" cy="92.3" r="1.65" fill="#ffe600" stroke="#c8a800" stroke-width="0.45"/>
<circle cx="275.9" cy="79.9" r="1.65" fill="#ffe600" stroke="#c8a800" stroke-width="0.45"/>
<circle cx="275.9" cy="90.4" r="1.65" fill="#ffe600" stroke="#c8a800" stroke-width="0.45"/>
<circle cx="283.4" cy="77.6" r="1.65" fill="#ffe600" stroke="#c8a800" stroke-width="0.45"/>
<circle cx="283.4" cy="92.3" r="1.65" fill="#ffe600" stroke="#c8a800" stroke-width="0.45"/>
<circle cx="290.6" cy="79.9" r="1.65" fill="#ffe600" stroke="#c8a800" stroke-width="0.45"/>
<circle cx="290.6" cy="90.4" r="1.65" fill="#ffe600" stroke="#c8a800" stroke-width="0.45"/>
<circle cx="298.0" cy="77.6" r="1.65" fill="#ffe600" stroke="#c8a800" stroke-width="0.45"/>
<circle cx="298.0" cy="92.3" r="1.65" fill="#ffe600" stroke="#c8a800" stroke-width="0.45"/>
<circle cx="305.2" cy="79.9" r="1.65" fill="#ffe600" stroke="#c8a800" stroke-width="0.45"/>
<circle cx="305.2" cy="90.4" r="1.65" fill="#ffe600" stroke="#c8a800" stroke-width="0.45"/>
<circle cx="312.6" cy="77.6" r="1.65" fill="#ffe600" stroke="#c8a800" stroke-width="0.45"/>
<circle cx="312.6" cy="92.3" r="1.65" fill="#ffe600" stroke="#c8a800" stroke-width="0.45"/>
<circle cx="319.8" cy="79.9" r="1.65" fill="#ffe600" stroke="#c8a800" stroke-width="0.45"/>
<circle cx="319.8" cy="90.4" r="1.65" fill="#ffe600" stroke="#c8a800" stroke-width="0.45"/>
<circle cx="327.3" cy="77.6" r="1.65" fill="#ffe600" stroke="#c8a800" stroke-width="0.45"/>
<circle cx="327.3" cy="92.3" r="1.65" fill="#ffe600" stroke="#c8a800" stroke-width="0.45"/>
<circle cx="334.5" cy="79.9" r="1.65" fill="#ffe600" stroke="#c8a800" stroke-width="0.45"/>
<circle cx="334.5" cy="90.4" r="1.65" fill="#ffe600" stroke="#c8a800" stroke-width="0.45"/>
<circle cx="341.9" cy="77.6" r="1.65" fill="#ffe600" stroke="#c8a800" stroke-width="0.45"/>
<circle cx="341.9" cy="92.3" r="1.65" fill="#ffe600" stroke="#c8a800" stroke-width="0.45"/>
<circle cx="349.1" cy="79.9" r="1.65" fill="#ffe600" stroke="#c8a800" stroke-width="0.45"/>
<circle cx="349.1" cy="90.4" r="1.65" fill="#ffe600" stroke="#c8a800" stroke-width="0.45"/>
<circle cx="224.8" cy="82.6" r="2.15" fill="#5a2a9a"/><circle cx="224.3" cy="82.1" r="0.6" fill="#9a7ad0"/>
<circle cx="224.8" cy="88.7" r="2.15" fill="#5a2a9a"/><circle cx="224.3" cy="88.2" r="0.6" fill="#9a7ad0"/>
<circle cx="239.4" cy="82.6" r="2.15" fill="#5a2a9a"/><circle cx="238.9" cy="82.1" r="0.6" fill="#9a7ad0"/>
<circle cx="239.4" cy="88.7" r="2.15" fill="#5a2a9a"/><circle cx="238.9" cy="88.2" r="0.6" fill="#9a7ad0"/>
<circle cx="254.1" cy="82.6" r="2.15" fill="#5a2a9a"/><circle cx="253.6" cy="82.1" r="0.6" fill="#9a7ad0"/>
<circle cx="254.1" cy="88.7" r="2.15" fill="#5a2a9a"/><circle cx="253.6" cy="88.2" r="0.6" fill="#9a7ad0"/>
<circle cx="268.7" cy="82.6" r="2.15" fill="#5a2a9a"/><circle cx="268.2" cy="82.1" r="0.6" fill="#9a7ad0"/>
<circle cx="268.7" cy="88.7" r="2.15" fill="#5a2a9a"/><circle cx="268.2" cy="88.2" r="0.6" fill="#9a7ad0"/>
<circle cx="283.4" cy="82.6" r="2.15" fill="#5a2a9a"/><circle cx="282.9" cy="82.1" r="0.6" fill="#9a7ad0"/>
<circle cx="283.4" cy="88.7" r="2.15" fill="#5a2a9a"/><circle cx="282.9" cy="88.2" r="0.6" fill="#9a7ad0"/>
<circle cx="298.0" cy="82.6" r="2.15" fill="#5a2a9a"/><circle cx="297.5" cy="82.1" r="0.6" fill="#9a7ad0"/>
<circle cx="298.0" cy="88.7" r="2.15" fill="#5a2a9a"/><circle cx="297.5" cy="88.2" r="0.6" fill="#9a7ad0"/>
<circle cx="312.6" cy="82.6" r="2.15" fill="#5a2a9a"/><circle cx="312.1" cy="82.1" r="0.6" fill="#9a7ad0"/>
<circle cx="312.6" cy="88.7" r="2.15" fill="#5a2a9a"/><circle cx="312.1" cy="88.2" r="0.6" fill="#9a7ad0"/>
<circle cx="327.3" cy="82.6" r="2.15" fill="#5a2a9a"/><circle cx="326.8" cy="82.1" r="0.6" fill="#9a7ad0"/>
<circle cx="327.3" cy="88.7" r="2.15" fill="#5a2a9a"/><circle cx="326.8" cy="88.2" r="0.6" fill="#9a7ad0"/>
<circle cx="341.9" cy="82.6" r="2.15" fill="#5a2a9a"/><circle cx="341.4" cy="82.1" r="0.6" fill="#9a7ad0"/>
<circle cx="341.9" cy="88.7" r="2.15" fill="#5a2a9a"/><circle cx="341.4" cy="88.2" r="0.6" fill="#9a7ad0"/>
<path d="M218.4,106.2 V112.3 M218.4,106.2 L218.4,101.2 M218.4,106.2 L211.4,103.5 M218.4,106.2 L225.6,103.5 M218.4,112.3 L218.4,115.9 M218.4,112.3 L211.4,114.0 M218.4,112.3 L225.6,114.0" stroke="#c8785a" stroke-width="0.9" fill="none"/><path d="M233.1,106.2 V112.3 M233.1,106.2 L233.1,101.2 M233.1,106.2 L226.1,103.5 M233.1,106.2 L240.2,103.5 M233.1,112.3 L233.1,115.9 M233.1,112.3 L226.1,114.0 M233.1,112.3 L240.2,114.0" stroke="#c8785a" stroke-width="0.9" fill="none"/><path d="M247.7,106.2 V112.3 M247.7,106.2 L247.7,101.2 M247.7,106.2 L240.7,103.5 M247.7,106.2 L254.9,103.5 M247.7,112.3 L247.7,115.9 M247.7,112.3 L240.7,114.0 M247.7,112.3 L254.9,114.0" stroke="#c8785a" stroke-width="0.9" fill="none"/><path d="M262.4,106.2 V112.3 M262.4,106.2 L262.4,101.2 M262.4,106.2 L255.4,103.5 M262.4,106.2 L269.6,103.5 M262.4,112.3 L262.4,115.9 M262.4,112.3 L255.4,114.0 M262.4,112.3 L269.6,114.0" stroke="#c8785a" stroke-width="0.9" fill="none"/><path d="M277.0,106.2 V112.3 M277.0,106.2 L277.0,101.2 M277.0,106.2 L270.0,103.5 M277.0,106.2 L284.2,103.5 M277.0,112.3 L277.0,115.9 M277.0,112.3 L270.0,114.0 M277.0,112.3 L284.2,114.0" stroke="#c8785a" stroke-width="0.9" fill="none"/><path d="M291.6,106.2 V112.3 M291.6,106.2 L291.6,101.2 M291.6,106.2 L284.6,103.5 M291.6,106.2 L298.8,103.5 M291.6,112.3 L291.6,115.9 M291.6,112.3 L284.6,114.0 M291.6,112.3 L298.8,114.0" stroke="#c8785a" stroke-width="0.9" fill="none"/><path d="M306.3,106.2 V112.3 M306.3,106.2 L306.3,101.2 M306.3,106.2 L299.3,103.5 M306.3,106.2 L313.5,103.5 M306.3,112.3 L306.3,115.9 M306.3,112.3 L299.3,114.0 M306.3,112.3 L313.5,114.0" stroke="#c8785a" stroke-width="0.9" fill="none"/><path d="M320.9,106.2 V112.3 M320.9,106.2 L320.9,101.2 M320.9,106.2 L313.9,103.5 M320.9,106.2 L328.1,103.5 M320.9,112.3 L320.9,115.9 M320.9,112.3 L313.9,114.0 M320.9,112.3 L328.1,114.0" stroke="#c8785a" stroke-width="0.9" fill="none"/><path d="M335.6,106.2 V112.3 M335.6,106.2 L335.6,101.2 M335.6,106.2 L328.6,103.5 M335.6,106.2 L342.8,103.5 M335.6,112.3 L335.6,115.9 M335.6,112.3 L328.6,114.0 M335.6,112.3 L342.8,114.0" stroke="#c8785a" stroke-width="0.9" fill="none"/>
<circle cx="218.4" cy="101.2" r="1.65" fill="#ffe600" stroke="#c8a800" stroke-width="0.45"/>
<circle cx="218.4" cy="115.9" r="1.65" fill="#ffe600" stroke="#c8a800" stroke-width="0.45"/>
<circle cx="225.6" cy="103.5" r="1.65" fill="#ffe600" stroke="#c8a800" stroke-width="0.45"/>
<circle cx="225.6" cy="114.0" r="1.65" fill="#ffe600" stroke="#c8a800" stroke-width="0.45"/>
<circle cx="211.4" cy="103.5" r="1.65" fill="#ffe600" stroke="#c8a800" stroke-width="0.45"/>
<circle cx="211.4" cy="114.0" r="1.65" fill="#ffe600" stroke="#c8a800" stroke-width="0.45"/>
<circle cx="233.1" cy="101.2" r="1.65" fill="#ffe600" stroke="#c8a800" stroke-width="0.45"/>
<circle cx="233.1" cy="115.9" r="1.65" fill="#ffe600" stroke="#c8a800" stroke-width="0.45"/>
<circle cx="240.2" cy="103.5" r="1.65" fill="#ffe600" stroke="#c8a800" stroke-width="0.45"/>
<circle cx="240.2" cy="114.0" r="1.65" fill="#ffe600" stroke="#c8a800" stroke-width="0.45"/>
<circle cx="247.7" cy="101.2" r="1.65" fill="#ffe600" stroke="#c8a800" stroke-width="0.45"/>
<circle cx="247.7" cy="115.9" r="1.65" fill="#ffe600" stroke="#c8a800" stroke-width="0.45"/>
<circle cx="254.9" cy="103.5" r="1.65" fill="#ffe600" stroke="#c8a800" stroke-width="0.45"/>
<circle cx="254.9" cy="114.0" r="1.65" fill="#ffe600" stroke="#c8a800" stroke-width="0.45"/>
<circle cx="262.4" cy="101.2" r="1.65" fill="#ffe600" stroke="#c8a800" stroke-width="0.45"/>
<circle cx="262.4" cy="115.9" r="1.65" fill="#ffe600" stroke="#c8a800" stroke-width="0.45"/>
<circle cx="269.6" cy="103.5" r="1.65" fill="#ffe600" stroke="#c8a800" stroke-width="0.45"/>
<circle cx="269.6" cy="114.0" r="1.65" fill="#ffe600" stroke="#c8a800" stroke-width="0.45"/>
<circle cx="277.0" cy="101.2" r="1.65" fill="#ffe600" stroke="#c8a800" stroke-width="0.45"/>
<circle cx="277.0" cy="115.9" r="1.65" fill="#ffe600" stroke="#c8a800" stroke-width="0.45"/>
<circle cx="284.2" cy="103.5" r="1.65" fill="#ffe600" stroke="#c8a800" stroke-width="0.45"/>
<circle cx="284.2" cy="114.0" r="1.65" fill="#ffe600" stroke="#c8a800" stroke-width="0.45"/>
<circle cx="291.6" cy="101.2" r="1.65" fill="#ffe600" stroke="#c8a800" stroke-width="0.45"/>
<circle cx="291.6" cy="115.9" r="1.65" fill="#ffe600" stroke="#c8a800" stroke-width="0.45"/>
<circle cx="298.8" cy="103.5" r="1.65" fill="#ffe600" stroke="#c8a800" stroke-width="0.45"/>
<circle cx="298.8" cy="114.0" r="1.65" fill="#ffe600" stroke="#c8a800" stroke-width="0.45"/>
<circle cx="306.3" cy="101.2" r="1.65" fill="#ffe600" stroke="#c8a800" stroke-width="0.45"/>
<circle cx="306.3" cy="115.9" r="1.65" fill="#ffe600" stroke="#c8a800" stroke-width="0.45"/>
<circle cx="313.5" cy="103.5" r="1.65" fill="#ffe600" stroke="#c8a800" stroke-width="0.45"/>
<circle cx="313.5" cy="114.0" r="1.65" fill="#ffe600" stroke="#c8a800" stroke-width="0.45"/>
<circle cx="320.9" cy="101.2" r="1.65" fill="#ffe600" stroke="#c8a800" stroke-width="0.45"/>
<circle cx="320.9" cy="115.9" r="1.65" fill="#ffe600" stroke="#c8a800" stroke-width="0.45"/>
<circle cx="328.1" cy="103.5" r="1.65" fill="#ffe600" stroke="#c8a800" stroke-width="0.45"/>
<circle cx="328.1" cy="114.0" r="1.65" fill="#ffe600" stroke="#c8a800" stroke-width="0.45"/>
<circle cx="335.6" cy="101.2" r="1.65" fill="#ffe600" stroke="#c8a800" stroke-width="0.45"/>
<circle cx="335.6" cy="115.9" r="1.65" fill="#ffe600" stroke="#c8a800" stroke-width="0.45"/>
<circle cx="342.8" cy="103.5" r="1.65" fill="#ffe600" stroke="#c8a800" stroke-width="0.45"/>
<circle cx="342.8" cy="114.0" r="1.65" fill="#ffe600" stroke="#c8a800" stroke-width="0.45"/>
<circle cx="218.4" cy="106.2" r="2.15" fill="#5a2a9a"/><circle cx="217.9" cy="105.7" r="0.6" fill="#9a7ad0"/>
<circle cx="218.4" cy="112.3" r="2.15" fill="#5a2a9a"/><circle cx="217.9" cy="111.8" r="0.6" fill="#9a7ad0"/>
<circle cx="233.1" cy="106.2" r="2.15" fill="#5a2a9a"/><circle cx="232.6" cy="105.7" r="0.6" fill="#9a7ad0"/>
<circle cx="233.1" cy="112.3" r="2.15" fill="#5a2a9a"/><circle cx="232.6" cy="111.8" r="0.6" fill="#9a7ad0"/>
<circle cx="247.7" cy="106.2" r="2.15" fill="#5a2a9a"/><circle cx="247.2" cy="105.7" r="0.6" fill="#9a7ad0"/>
<circle cx="247.7" cy="112.3" r="2.15" fill="#5a2a9a"/><circle cx="247.2" cy="111.8" r="0.6" fill="#9a7ad0"/>
<circle cx="262.4" cy="106.2" r="2.15" fill="#5a2a9a"/><circle cx="261.9" cy="105.7" r="0.6" fill="#9a7ad0"/>
<circle cx="262.4" cy="112.3" r="2.15" fill="#5a2a9a"/><circle cx="261.9" cy="111.8" r="0.6" fill="#9a7ad0"/>
<circle cx="277.0" cy="106.2" r="2.15" fill="#5a2a9a"/><circle cx="276.5" cy="105.7" r="0.6" fill="#9a7ad0"/>
<circle cx="277.0" cy="112.3" r="2.15" fill="#5a2a9a"/><circle cx="276.5" cy="111.8" r="0.6" fill="#9a7ad0"/>
<circle cx="291.6" cy="106.2" r="2.15" fill="#5a2a9a"/><circle cx="291.1" cy="105.7" r="0.6" fill="#9a7ad0"/>
<circle cx="291.6" cy="112.3" r="2.15" fill="#5a2a9a"/><circle cx="291.1" cy="111.8" r="0.6" fill="#9a7ad0"/>
<circle cx="306.3" cy="106.2" r="2.15" fill="#5a2a9a"/><circle cx="305.8" cy="105.7" r="0.6" fill="#9a7ad0"/>
<circle cx="306.3" cy="112.3" r="2.15" fill="#5a2a9a"/><circle cx="305.8" cy="111.8" r="0.6" fill="#9a7ad0"/>
<circle cx="320.9" cy="106.2" r="2.15" fill="#5a2a9a"/><circle cx="320.4" cy="105.7" r="0.6" fill="#9a7ad0"/>
<circle cx="320.9" cy="112.3" r="2.15" fill="#5a2a9a"/><circle cx="320.4" cy="111.8" r="0.6" fill="#9a7ad0"/>
<circle cx="335.6" cy="106.2" r="2.15" fill="#5a2a9a"/><circle cx="335.1" cy="105.7" r="0.6" fill="#9a7ad0"/>
<circle cx="335.6" cy="112.3" r="2.15" fill="#5a2a9a"/><circle cx="335.1" cy="111.8" r="0.6" fill="#9a7ad0"/>
<defs><pattern id="hx" width="6" height="3.4" patternUnits="userSpaceOnUse" patternTransform="rotate(-34)"><rect width="6" height="3.4" fill="#45268a"/><rect y="0" width="6" height="2.0" fill="#c2aa00"/><rect x="0" y="0" width="1.0" height="3.4" fill="#45268a" opacity="0.6"/></pattern><linearGradient id="hg" x1="0" y1="0" x2="0" y2="1"><stop offset="0" stop-color="#c9b200" stop-opacity="0.25"/><stop offset="0.6" stop-color="#4f2a8c" stop-opacity="0"/><stop offset="1" stop-color="#4f2a8c" stop-opacity="0.3"/></linearGradient></defs>
<polygon points="138.8,135.3 183.3,135.3 193.5,150.1 193.5,167.4 129.2,167.4 129.2,150.1" fill="url(#hx)"/><polygon points="138.8,135.3 183.3,135.3 193.5,150.1 193.5,167.4 129.2,167.4 129.2,150.1" fill="url(#hg)"/>
<rect x="104.6" y="167.9" width="112.5" height="12.5" fill="#e6e7f3" stroke="#aaa" stroke-width="0.6"/>
<rect x="104.6" y="150.1" width="25.8" height="17.8" fill="#7c2f27"/>
<rect x="192.4" y="150.1" width="24.6" height="17.8" fill="#7c2f27"/>
<polygon points="104.6,150.1 126.9,132.5 138.8,132.5 130.3,150.1" fill="#d2950f" />
<polygon points="138.8,132.5 140.6,133.4 132.2,151.7 130.3,150.1" fill="#a81616" />
<polygon points="183.3,132.5 194.7,132.5 217.0,150.1 192.4,150.1" fill="#d2950f" />
<polygon points="183.3,132.5 181.5,133.4 190.6,151.7 192.4,150.1" fill="#a81616" />
<polygon points="148.6,132.5 174.8,132.5 178.7,150.1 144.0,150.1" fill="#d2950f" />
<polygon points="144.0,150.1 178.7,150.1 178.7,154.7 144.0,154.7" fill="#d8141a" />
<line x1="126.9" y1="103.5" x2="126.9" y2="141.4" stroke="#000" stroke-width="1.7"/>
<ellipse cx="126.9" cy="141.4" rx="2.6" ry="1.4" fill="#000"/>
<line x1="160.5" y1="117.5" x2="160.5" y2="141.4" stroke="#000" stroke-width="1.7"/>
<ellipse cx="160.5" cy="141.4" rx="2.6" ry="1.4" fill="#000"/>
<line x1="196.5" y1="105.5" x2="196.5" y2="141.4" stroke="#000" stroke-width="1.7"/>
<ellipse cx="196.5" cy="141.4" rx="2.6" ry="1.4" fill="#000"/>
<text class="sf" x="119.5" y="163.5" fill="#fff" text-anchor="middle" style="font-size:12.5px;font-weight:bold;" >D</text>
<text class="sf" x="205.3" y="163.5" fill="#fff" text-anchor="middle" style="font-size:12.5px;font-weight:bold;" >S</text>
<text class="sf" x="155.3" y="178.8" fill="#000" text-anchor="middle" style="font-size:12.5px;font-weight:bold;" >Mica</text>
<path d="M126.9,59.5 V52 H196.5 V100.5 M160.7,52 V60 M126.9,75 V83 M126.9,98 V100.5 M160.7,74 V84 M160.7,102.5 V112.5" stroke="#000" stroke-width="1.5" fill="none"/>
<circle cx="160.7" cy="52" r="2.9" fill="#000"/>
<circle cx="126.9" cy="67.3" r="7.4" fill="#fff" stroke="#000" stroke-width="1.1"/>
<circle cx="126.9" cy="90.6" r="7.4" fill="#fff" stroke="#000" stroke-width="1.1"/>
<circle cx="160.7" cy="67" r="7" fill="#fff" stroke="#000" stroke-width="1.1"/>
<rect x="156.6" y="84" width="8" height="18.5" fill="#e2e6f1" stroke="#bcc0cf" stroke-width="0.6"/>
<circle cx="126.9" cy="103" r="2.5" fill="#fff" stroke="#000" stroke-width="1.1"/>
<circle cx="196.5" cy="103" r="2.5" fill="#fff" stroke="#000" stroke-width="1.1"/>
<circle cx="160.7" cy="115" r="2.5" fill="#fff" stroke="#000" stroke-width="1.1"/>
<path d="M126.2,94.3 L128.6,89" stroke="#000" stroke-width="1.3" fill="none"/><path d="M131,84.6 L131.2,91 L125.6,88.4 Z" fill="#000"/>
<text class="sf" x="126.9" y="70" text-anchor="middle" style="font-size:8px;font-weight:bold">V<tspan dy="1.5" style="font-size:4.6px">SD</tspan></text>
<text class="sf" x="160.7" y="69.6" text-anchor="middle" style="font-size:8px;font-weight:bold">V<tspan dy="1.5" style="font-size:5px">G</tspan></text>
<text class="sf" x="136.3" y="94.3" style="font-size:8px;font-weight:bold">I<tspan dy="1.3" style="font-size:5px">D</tspan></text>
<text class="sf" x="166.3" y="91.9" style="font-size:7.5px;font-weight:bold">R<tspan dy="1.3" style="font-size:5px">G</tspan><tspan dy="-1.3"> =</tspan></text>
<text class="sf" x="165.6" y="100.7" fill="#000" text-anchor="start" style="font-size:7.3px;font-weight:bold;" >100Ω</text>
<text class="sf" x="129.0" y="58.5" fill="#555" text-anchor="start" style="font-size:6px;font-weight:normal;" >+</text>
<text class="sf" x="163.0" y="79.5" fill="#555" text-anchor="start" style="font-size:6px;font-weight:normal;" >+</text>
<text class="sf" x="163.8" y="128.0" fill="#000" text-anchor="start" style="font-size:13.5px;font-weight:bold;" >G</text>
<line x1="59.8" y1="414" x2="131.8" y2="523.8" stroke="#2a2a9a" stroke-width="1.3"/>
<path d="M60.7,410.6 L63.6,413.5 L60.7,416.4 L57.8,413.5Z" fill="none" stroke="#ff48ff" stroke-width="0.7"/>
<path d="M69.6,429.1 L72.5,432.0 L69.6,434.9 L66.7,432.0Z" fill="none" stroke="#ff48ff" stroke-width="0.7"/>
<path d="M78.5,446.1 L81.4,449.0 L78.5,451.9 L75.6,449.0Z" fill="none" stroke="#ff48ff" stroke-width="0.7"/>
<path d="M87.4,459.8 L90.3,462.7 L87.4,465.6 L84.5,462.7Z" fill="none" stroke="#ff48ff" stroke-width="0.7"/>
<path d="M96.3,472.0 L99.2,474.9 L96.3,477.8 L93.4,474.9Z" fill="none" stroke="#ff48ff" stroke-width="0.7"/>
<path d="M105.1,482.8 L108.0,485.7 L105.1,488.6 L102.2,485.7Z" fill="none" stroke="#ff48ff" stroke-width="0.7"/>
<path d="M114.0,493.7 L116.9,496.6 L114.0,499.5 L111.1,496.6Z" fill="none" stroke="#ff48ff" stroke-width="0.7"/>
<path d="M122.9,505.3 L125.8,508.2 L122.9,511.1 L120.0,508.2Z" fill="none" stroke="#ff48ff" stroke-width="0.7"/>
<path d="M131.8,516.4 L134.7,519.3 L131.8,522.2 L128.9,519.3Z" fill="none" stroke="#ff48ff" stroke-width="0.7"/>
<path d="M140.7,525.2 L143.6,528.1 L140.7,531.0 L137.8,528.1Z" fill="none" stroke="#ff48ff" stroke-width="0.7"/>
<path d="M149.6,533.5 L152.5,536.4 L149.6,539.3 L146.7,536.4Z" fill="none" stroke="#ff48ff" stroke-width="0.7"/>
<path d="M158.5,544.5 L161.4,547.4 L158.5,550.3 L155.6,547.4Z" fill="none" stroke="#ff48ff" stroke-width="0.7"/>
<path d="M167.4,556.6 L170.3,559.5 L167.4,562.4 L164.5,559.5Z" fill="none" stroke="#ff48ff" stroke-width="0.7"/>
<path d="M176.3,568.0 L179.2,570.9 L176.3,573.8 L173.4,570.9Z" fill="none" stroke="#ff48ff" stroke-width="0.7"/>
<path d="M185.2,576.4 L188.1,579.3 L185.2,582.2 L182.3,579.3Z" fill="none" stroke="#ff48ff" stroke-width="0.7"/>
<path d="M194.1,580.3 L197.0,583.2 L194.1,586.1 L191.2,583.2Z" fill="none" stroke="#ff48ff" stroke-width="0.7"/>
<path d="M202.9,581.3 L205.8,584.2 L202.9,587.1 L200.0,584.2Z" fill="none" stroke="#ff48ff" stroke-width="0.7"/>
<path d="M211.8,581.3 L214.7,584.2 L211.8,587.1 L208.9,584.2Z" fill="none" stroke="#ff48ff" stroke-width="0.7"/>
<path d="M220.7,581.3 L223.6,584.2 L220.7,587.1 L217.8,584.2Z" fill="none" stroke="#ff48ff" stroke-width="0.7"/>
<path d="M229.6,581.3 L232.5,584.2 L229.6,587.1 L226.7,584.2Z" fill="none" stroke="#ff48ff" stroke-width="0.7"/>
<path d="M238.5,581.3 L241.4,584.2 L238.5,587.1 L235.6,584.2Z" fill="none" stroke="#ff48ff" stroke-width="0.7"/>
<path d="M60.70,458.70 L61.38,460.37 L63.17,460.50 L61.79,461.66 L62.23,463.40 L60.70,462.45 L59.17,463.40 L59.61,461.66 L58.23,460.50 L60.02,460.37Z" fill="none" stroke="#ff4aa0" stroke-width="0.65"/>
<path d="M69.59,475.40 L70.27,477.07 L72.06,477.20 L70.68,478.36 L71.12,480.10 L69.59,479.15 L68.06,480.10 L68.50,478.36 L67.12,477.20 L68.91,477.07Z" fill="none" stroke="#ff4aa0" stroke-width="0.65"/>
<path d="M78.48,490.20 L79.16,491.87 L80.95,492.00 L79.57,493.16 L80.01,494.90 L78.48,493.95 L76.95,494.90 L77.39,493.16 L76.01,492.00 L77.80,491.87Z" fill="none" stroke="#ff4aa0" stroke-width="0.65"/>
<path d="M87.37,502.00 L88.05,503.67 L89.84,503.80 L88.46,504.96 L88.90,506.70 L87.37,505.75 L85.84,506.70 L86.28,504.96 L84.90,503.80 L86.69,503.67Z" fill="none" stroke="#ff4aa0" stroke-width="0.65"/>
<path d="M96.26,512.10 L96.94,513.77 L98.73,513.90 L97.35,515.06 L97.79,516.80 L96.26,515.85 L94.73,516.80 L95.17,515.06 L93.79,513.90 L95.58,513.77Z" fill="none" stroke="#ff4aa0" stroke-width="0.65"/>
<path d="M105.15,520.90 L105.83,522.57 L107.62,522.70 L106.24,523.86 L106.68,525.60 L105.15,524.65 L103.62,525.60 L104.06,523.86 L102.68,522.70 L104.47,522.57Z" fill="none" stroke="#ff4aa0" stroke-width="0.65"/>
<path d="M114.04,529.90 L114.72,531.57 L116.51,531.70 L115.13,532.86 L115.57,534.60 L114.04,533.65 L112.51,534.60 L112.95,532.86 L111.57,531.70 L113.36,531.57Z" fill="none" stroke="#ff4aa0" stroke-width="0.65"/>
<path d="M122.93,538.60 L123.61,540.27 L125.40,540.40 L124.02,541.56 L124.46,543.30 L122.93,542.35 L121.40,543.30 L121.84,541.56 L120.46,540.40 L122.25,540.27Z" fill="none" stroke="#ff4aa0" stroke-width="0.65"/>
<path d="M131.82,546.60 L132.50,548.27 L134.29,548.40 L132.91,549.56 L133.35,551.30 L131.82,550.35 L130.29,551.30 L130.73,549.56 L129.35,548.40 L131.14,548.27Z" fill="none" stroke="#ff4aa0" stroke-width="0.65"/>
<path d="M140.71,551.80 L141.39,553.47 L143.18,553.60 L141.80,554.76 L142.24,556.50 L140.71,555.55 L139.18,556.50 L139.62,554.76 L138.24,553.60 L140.03,553.47Z" fill="none" stroke="#ff4aa0" stroke-width="0.65"/>
<path d="M149.60,558.50 L150.28,560.17 L152.07,560.30 L150.69,561.46 L151.13,563.20 L149.60,562.25 L148.07,563.20 L148.51,561.46 L147.13,560.30 L148.92,560.17Z" fill="none" stroke="#ff4aa0" stroke-width="0.65"/>
<path d="M158.49,570.30 L159.17,571.97 L160.96,572.10 L159.58,573.26 L160.02,575.00 L158.49,574.05 L156.96,575.00 L157.40,573.26 L156.02,572.10 L157.81,571.97Z" fill="none" stroke="#ff4aa0" stroke-width="0.65"/>
<path d="M167.38,579.40 L168.06,581.07 L169.85,581.20 L168.47,582.36 L168.91,584.10 L167.38,583.15 L165.85,584.10 L166.29,582.36 L164.91,581.20 L166.70,581.07Z" fill="none" stroke="#ff4aa0" stroke-width="0.65"/>
<path d="M176.27,581.70 L176.95,583.37 L178.74,583.50 L177.36,584.66 L177.80,586.40 L176.27,585.45 L174.74,586.40 L175.18,584.66 L173.80,583.50 L175.59,583.37Z" fill="none" stroke="#ff4aa0" stroke-width="0.65"/>
<path d="M185.16,581.60 L185.84,583.27 L187.63,583.40 L186.25,584.56 L186.69,586.30 L185.16,585.35 L183.63,586.30 L184.07,584.56 L182.69,583.40 L184.48,583.27Z" fill="none" stroke="#ff4aa0" stroke-width="0.65"/>
<path d="M194.05,581.60 L194.73,583.27 L196.52,583.40 L195.14,584.56 L195.58,586.30 L194.05,585.35 L192.52,586.30 L192.96,584.56 L191.58,583.40 L193.37,583.27Z" fill="none" stroke="#ff4aa0" stroke-width="0.65"/>
<path d="M202.94,581.60 L203.62,583.27 L205.41,583.40 L204.03,584.56 L204.47,586.30 L202.94,585.35 L201.41,586.30 L201.85,584.56 L200.47,583.40 L202.26,583.27Z" fill="none" stroke="#ff4aa0" stroke-width="0.65"/>
<path d="M211.83,581.60 L212.51,583.27 L214.30,583.40 L212.92,584.56 L213.36,586.30 L211.83,585.35 L210.30,586.30 L210.74,584.56 L209.36,583.40 L211.15,583.27Z" fill="none" stroke="#ff4aa0" stroke-width="0.65"/>
<path d="M220.72,581.60 L221.40,583.27 L223.19,583.40 L221.81,584.56 L222.25,586.30 L220.72,585.35 L219.19,586.30 L219.63,584.56 L218.25,583.40 L220.04,583.27Z" fill="none" stroke="#ff4aa0" stroke-width="0.65"/>
<path d="M229.61,581.60 L230.29,583.27 L232.08,583.40 L230.70,584.56 L231.14,586.30 L229.61,585.35 L228.08,586.30 L228.52,584.56 L227.14,583.40 L228.93,583.27Z" fill="none" stroke="#ff4aa0" stroke-width="0.65"/>
<path d="M238.50,581.60 L239.18,583.27 L240.97,583.40 L239.59,584.56 L240.03,586.30 L238.50,585.35 L236.97,586.30 L237.41,584.56 L236.03,583.40 L237.82,583.27Z" fill="none" stroke="#ff4aa0" stroke-width="0.65"/>
<path d="M60.7,503.7 L63.4,508.4 L58.0,508.4Z" fill="none" stroke="#aaaa58" stroke-width="0.7"/>
<path d="M69.6,518.3 L72.3,523.0 L66.9,523.0Z" fill="none" stroke="#aaaa58" stroke-width="0.7"/>
<path d="M78.5,530.8 L81.2,535.5 L75.8,535.5Z" fill="none" stroke="#aaaa58" stroke-width="0.7"/>
<path d="M87.4,541.0 L90.1,545.7 L84.7,545.7Z" fill="none" stroke="#aaaa58" stroke-width="0.7"/>
<path d="M96.3,549.4 L99.0,554.1 L93.6,554.1Z" fill="none" stroke="#aaaa58" stroke-width="0.7"/>
<path d="M105.1,556.7 L107.8,561.4 L102.4,561.4Z" fill="none" stroke="#aaaa58" stroke-width="0.7"/>
<path d="M114.0,564.0 L116.7,568.7 L111.3,568.7Z" fill="none" stroke="#aaaa58" stroke-width="0.7"/>
<path d="M122.9,569.9 L125.6,574.6 L120.2,574.6Z" fill="none" stroke="#aaaa58" stroke-width="0.7"/>
<path d="M131.8,574.7 L134.5,579.4 L129.1,579.4Z" fill="none" stroke="#aaaa58" stroke-width="0.7"/>
<path d="M140.7,578.7 L143.4,583.4 L138.0,583.4Z" fill="none" stroke="#aaaa58" stroke-width="0.7"/>
<path d="M149.6,580.6 L152.3,585.3 L146.9,585.3Z" fill="none" stroke="#aaaa58" stroke-width="0.7"/>
<path d="M158.5,581.5 L161.2,586.2 L155.8,586.2Z" fill="none" stroke="#aaaa58" stroke-width="0.7"/>
<path d="M167.4,581.5 L170.1,586.2 L164.7,586.2Z" fill="none" stroke="#aaaa58" stroke-width="0.7"/>
<path d="M176.3,581.5 L179.0,586.2 L173.6,586.2Z" fill="none" stroke="#aaaa58" stroke-width="0.7"/>
<path d="M185.2,581.5 L187.9,586.2 L182.5,586.2Z" fill="none" stroke="#aaaa58" stroke-width="0.7"/>
<path d="M194.1,581.5 L196.8,586.2 L191.4,586.2Z" fill="none" stroke="#aaaa58" stroke-width="0.7"/>
<path d="M202.9,581.5 L205.6,586.2 L200.2,586.2Z" fill="none" stroke="#aaaa58" stroke-width="0.7"/>
<path d="M211.8,581.5 L214.5,586.2 L209.1,586.2Z" fill="none" stroke="#aaaa58" stroke-width="0.7"/>
<path d="M220.7,581.5 L223.4,586.2 L218.0,586.2Z" fill="none" stroke="#aaaa58" stroke-width="0.7"/>
<path d="M229.6,581.5 L232.3,586.2 L226.9,586.2Z" fill="none" stroke="#aaaa58" stroke-width="0.7"/>
<path d="M238.5,581.5 L241.2,586.2 L235.8,586.2Z" fill="none" stroke="#aaaa58" stroke-width="0.7"/>
<path d="M60.7,552.1 L63.4,547.4 L58.0,547.4Z" fill="none" stroke="#5a5aff" stroke-width="0.65"/>
<path d="M69.6,563.8 L72.3,559.1 L66.9,559.1Z" fill="none" stroke="#5a5aff" stroke-width="0.65"/>
<path d="M78.5,573.8 L81.2,569.1 L75.8,569.1Z" fill="none" stroke="#5a5aff" stroke-width="0.65"/>
<path d="M87.4,580.9 L90.1,576.2 L84.7,576.2Z" fill="none" stroke="#5a5aff" stroke-width="0.65"/>
<path d="M96.3,584.7 L99.0,580.0 L93.6,580.0Z" fill="none" stroke="#5a5aff" stroke-width="0.65"/>
<path d="M105.1,586.9 L107.8,582.2 L102.4,582.2Z" fill="none" stroke="#5a5aff" stroke-width="0.65"/>
<path d="M114.0,586.9 L116.7,582.2 L111.3,582.2Z" fill="none" stroke="#5a5aff" stroke-width="0.65"/>
<path d="M122.9,586.9 L125.6,582.2 L120.2,582.2Z" fill="none" stroke="#5a5aff" stroke-width="0.65"/>
<path d="M131.8,586.9 L134.5,582.2 L129.1,582.2Z" fill="none" stroke="#5a5aff" stroke-width="0.65"/>
<path d="M140.7,586.9 L143.4,582.2 L138.0,582.2Z" fill="none" stroke="#5a5aff" stroke-width="0.65"/>
<path d="M149.6,586.9 L152.3,582.2 L146.9,582.2Z" fill="none" stroke="#5a5aff" stroke-width="0.65"/>
<path d="M158.5,586.9 L161.2,582.2 L155.8,582.2Z" fill="none" stroke="#5a5aff" stroke-width="0.65"/>
<path d="M167.4,586.9 L170.1,582.2 L164.7,582.2Z" fill="none" stroke="#5a5aff" stroke-width="0.65"/>
<path d="M176.3,586.9 L179.0,582.2 L173.6,582.2Z" fill="none" stroke="#5a5aff" stroke-width="0.65"/>
<path d="M185.2,586.9 L187.9,582.2 L182.5,582.2Z" fill="none" stroke="#5a5aff" stroke-width="0.65"/>
<path d="M194.1,586.9 L196.8,582.2 L191.4,582.2Z" fill="none" stroke="#5a5aff" stroke-width="0.65"/>
<path d="M202.9,586.9 L205.6,582.2 L200.2,582.2Z" fill="none" stroke="#5a5aff" stroke-width="0.65"/>
<path d="M211.8,586.9 L214.5,582.2 L209.1,582.2Z" fill="none" stroke="#5a5aff" stroke-width="0.65"/>
<path d="M220.7,586.9 L223.4,582.2 L218.0,582.2Z" fill="none" stroke="#5a5aff" stroke-width="0.65"/>
<path d="M229.6,586.9 L232.3,582.2 L226.9,582.2Z" fill="none" stroke="#5a5aff" stroke-width="0.65"/>
<path d="M238.5,586.9 L241.2,582.2 L235.8,582.2Z" fill="none" stroke="#5a5aff" stroke-width="0.65"/>
<circle cx="60.7" cy="580.3" r="1.55" fill="none" stroke="#a040ff" stroke-width="0.7"/>
<circle cx="69.6" cy="582.0" r="1.55" fill="none" stroke="#a040ff" stroke-width="0.7"/>
<circle cx="78.5" cy="583.5" r="1.55" fill="none" stroke="#a040ff" stroke-width="0.7"/>
<circle cx="87.4" cy="584.2" r="1.55" fill="none" stroke="#a040ff" stroke-width="0.7"/>
<circle cx="96.3" cy="584.2" r="1.55" fill="none" stroke="#a040ff" stroke-width="0.7"/>
<circle cx="105.1" cy="584.2" r="1.55" fill="none" stroke="#a040ff" stroke-width="0.7"/>
<circle cx="114.0" cy="584.2" r="1.55" fill="none" stroke="#a040ff" stroke-width="0.7"/>
<circle cx="122.9" cy="584.2" r="1.55" fill="none" stroke="#a040ff" stroke-width="0.7"/>
<circle cx="131.8" cy="584.2" r="1.55" fill="none" stroke="#a040ff" stroke-width="0.7"/>
<circle cx="140.7" cy="584.2" r="1.55" fill="none" stroke="#a040ff" stroke-width="0.7"/>
<circle cx="149.6" cy="584.2" r="1.55" fill="none" stroke="#a040ff" stroke-width="0.7"/>
<circle cx="158.5" cy="584.2" r="1.55" fill="none" stroke="#a040ff" stroke-width="0.7"/>
<circle cx="167.4" cy="584.2" r="1.55" fill="none" stroke="#a040ff" stroke-width="0.7"/>
<circle cx="176.3" cy="584.2" r="1.55" fill="none" stroke="#a040ff" stroke-width="0.7"/>
<circle cx="185.2" cy="584.2" r="1.55" fill="none" stroke="#a040ff" stroke-width="0.7"/>
<circle cx="194.1" cy="584.2" r="1.55" fill="none" stroke="#a040ff" stroke-width="0.7"/>
<circle cx="202.9" cy="584.2" r="1.55" fill="none" stroke="#a040ff" stroke-width="0.7"/>
<circle cx="211.8" cy="584.2" r="1.55" fill="none" stroke="#a040ff" stroke-width="0.7"/>
<circle cx="220.7" cy="584.2" r="1.55" fill="none" stroke="#a040ff" stroke-width="0.7"/>
<circle cx="229.6" cy="584.2" r="1.55" fill="none" stroke="#a040ff" stroke-width="0.7"/>
<circle cx="238.5" cy="584.2" r="1.55" fill="none" stroke="#a040ff" stroke-width="0.7"/>
<path d="M60.70,582.00 L61.32,583.65 L63.08,583.73 L61.70,584.82 L62.17,586.52 L60.70,585.55 L59.23,586.52 L59.70,584.82 L58.32,583.73 L60.08,583.65Z" fill="#0a7f7f" stroke="#0a7f7f" stroke-width="0.3"/>
<path d="M69.59,582.00 L70.21,583.65 L71.97,583.73 L70.59,584.82 L71.06,586.52 L69.59,585.55 L68.12,586.52 L68.59,584.82 L67.21,583.73 L68.97,583.65Z" fill="#0a7f7f" stroke="#0a7f7f" stroke-width="0.3"/>
<path d="M78.48,582.00 L79.10,583.65 L80.86,583.73 L79.48,584.82 L79.95,586.52 L78.48,585.55 L77.01,586.52 L77.48,584.82 L76.10,583.73 L77.86,583.65Z" fill="#0a7f7f" stroke="#0a7f7f" stroke-width="0.3"/>
<path d="M87.37,582.00 L87.99,583.65 L89.75,583.73 L88.37,584.82 L88.84,586.52 L87.37,585.55 L85.90,586.52 L86.37,584.82 L84.99,583.73 L86.75,583.65Z" fill="#0a7f7f" stroke="#0a7f7f" stroke-width="0.3"/>
<path d="M96.26,582.00 L96.88,583.65 L98.64,583.73 L97.26,584.82 L97.73,586.52 L96.26,585.55 L94.79,586.52 L95.26,584.82 L93.88,583.73 L95.64,583.65Z" fill="#0a7f7f" stroke="#0a7f7f" stroke-width="0.3"/>
<path d="M105.15,582.00 L105.77,583.65 L107.53,583.73 L106.15,584.82 L106.62,586.52 L105.15,585.55 L103.68,586.52 L104.15,584.82 L102.77,583.73 L104.53,583.65Z" fill="#0a7f7f" stroke="#0a7f7f" stroke-width="0.3"/>
<path d="M114.04,582.00 L114.66,583.65 L116.42,583.73 L115.04,584.82 L115.51,586.52 L114.04,585.55 L112.57,586.52 L113.04,584.82 L111.66,583.73 L113.42,583.65Z" fill="#0a7f7f" stroke="#0a7f7f" stroke-width="0.3"/>
<path d="M122.93,582.00 L123.55,583.65 L125.31,583.73 L123.93,584.82 L124.40,586.52 L122.93,585.55 L121.46,586.52 L121.93,584.82 L120.55,583.73 L122.31,583.65Z" fill="#0a7f7f" stroke="#0a7f7f" stroke-width="0.3"/>
<path d="M131.82,582.00 L132.44,583.65 L134.20,583.73 L132.82,584.82 L133.29,586.52 L131.82,585.55 L130.35,586.52 L130.82,584.82 L129.44,583.73 L131.20,583.65Z" fill="#0a7f7f" stroke="#0a7f7f" stroke-width="0.3"/>
<path d="M140.71,582.00 L141.33,583.65 L143.09,583.73 L141.71,584.82 L142.18,586.52 L140.71,585.55 L139.24,586.52 L139.71,584.82 L138.33,583.73 L140.09,583.65Z" fill="#0a7f7f" stroke="#0a7f7f" stroke-width="0.3"/>
<path d="M149.60,582.00 L150.22,583.65 L151.98,583.73 L150.60,584.82 L151.07,586.52 L149.60,585.55 L148.13,586.52 L148.60,584.82 L147.22,583.73 L148.98,583.65Z" fill="#0a7f7f" stroke="#0a7f7f" stroke-width="0.3"/>
<path d="M158.49,582.00 L159.11,583.65 L160.87,583.73 L159.49,584.82 L159.96,586.52 L158.49,585.55 L157.02,586.52 L157.49,584.82 L156.11,583.73 L157.87,583.65Z" fill="#0a7f7f" stroke="#0a7f7f" stroke-width="0.3"/>
<path d="M167.38,582.00 L168.00,583.65 L169.76,583.73 L168.38,584.82 L168.85,586.52 L167.38,585.55 L165.91,586.52 L166.38,584.82 L165.00,583.73 L166.76,583.65Z" fill="#0a7f7f" stroke="#0a7f7f" stroke-width="0.3"/>
<path d="M176.27,582.00 L176.89,583.65 L178.65,583.73 L177.27,584.82 L177.74,586.52 L176.27,585.55 L174.80,586.52 L175.27,584.82 L173.89,583.73 L175.65,583.65Z" fill="#0a7f7f" stroke="#0a7f7f" stroke-width="0.3"/>
<path d="M185.16,582.00 L185.78,583.65 L187.54,583.73 L186.16,584.82 L186.63,586.52 L185.16,585.55 L183.69,586.52 L184.16,584.82 L182.78,583.73 L184.54,583.65Z" fill="#0a7f7f" stroke="#0a7f7f" stroke-width="0.3"/>
<path d="M194.05,582.00 L194.67,583.65 L196.43,583.73 L195.05,584.82 L195.52,586.52 L194.05,585.55 L192.58,586.52 L193.05,584.82 L191.67,583.73 L193.43,583.65Z" fill="#0a7f7f" stroke="#0a7f7f" stroke-width="0.3"/>
<path d="M202.94,582.00 L203.56,583.65 L205.32,583.73 L203.94,584.82 L204.41,586.52 L202.94,585.55 L201.47,586.52 L201.94,584.82 L200.56,583.73 L202.32,583.65Z" fill="#0a7f7f" stroke="#0a7f7f" stroke-width="0.3"/>
<path d="M211.83,582.00 L212.45,583.65 L214.21,583.73 L212.83,584.82 L213.30,586.52 L211.83,585.55 L210.36,586.52 L210.83,584.82 L209.45,583.73 L211.21,583.65Z" fill="#0a7f7f" stroke="#0a7f7f" stroke-width="0.3"/>
<path d="M220.72,582.00 L221.34,583.65 L223.10,583.73 L221.72,584.82 L222.19,586.52 L220.72,585.55 L219.25,586.52 L219.72,584.82 L218.34,583.73 L220.10,583.65Z" fill="#0a7f7f" stroke="#0a7f7f" stroke-width="0.3"/>
<path d="M229.61,582.00 L230.23,583.65 L231.99,583.73 L230.61,584.82 L231.08,586.52 L229.61,585.55 L228.14,586.52 L228.61,584.82 L227.23,583.73 L228.99,583.65Z" fill="#0a7f7f" stroke="#0a7f7f" stroke-width="0.3"/>
<path d="M238.50,582.00 L239.12,583.65 L240.88,583.73 L239.50,584.82 L239.97,586.52 L238.50,585.55 L237.03,586.52 L237.50,584.82 L236.12,583.73 L237.88,583.65Z" fill="#0a7f7f" stroke="#0a7f7f" stroke-width="0.3"/>
<line x1="124.5" y1="414.8" x2="101.3" y2="453.6" stroke="#1e2a80" stroke-width="1.1"/>
<path d="M98.6,458 L99.3,449.3 L105,452.8 Z" fill="#1e2a80"/>
<rect x="43.1" y="344" width="212.9" height="283.4" fill="none" stroke="#000" stroke-width="1.6"/>
<text class="ss" x="38.4" y="347.2" fill="#000" text-anchor="end" style="font-size:10.4px;font-weight:bold;" >1.0</text>
<line x1="43.1" y1="391.5" x2="47.6" y2="391.5" stroke="#000" stroke-width="1.3"/>
<text class="ss" x="38.4" y="395.4" fill="#000" text-anchor="end" style="font-size:10.4px;font-weight:bold;" >0.8</text>
<line x1="43.1" y1="439.7" x2="47.6" y2="439.7" stroke="#000" stroke-width="1.3"/>
<text class="ss" x="38.4" y="443.6" fill="#000" text-anchor="end" style="font-size:10.4px;font-weight:bold;" >0.6</text>
<line x1="43.1" y1="487.9" x2="47.6" y2="487.9" stroke="#000" stroke-width="1.3"/>
<text class="ss" x="38.4" y="491.8" fill="#000" text-anchor="end" style="font-size:10.4px;font-weight:bold;" >0.4</text>
<line x1="43.1" y1="536.1" x2="47.6" y2="536.1" stroke="#000" stroke-width="1.3"/>
<text class="ss" x="38.4" y="540.0" fill="#000" text-anchor="end" style="font-size:10.4px;font-weight:bold;" >0.2</text>
<line x1="43.1" y1="584.3" x2="47.6" y2="584.3" stroke="#000" stroke-width="1.3"/>
<text class="ss" x="38.4" y="588.2" fill="#000" text-anchor="end" style="font-size:10.4px;font-weight:bold;" >0.0</text>
<line x1="60.7" y1="627.4" x2="60.7" y2="622.9" stroke="#000" stroke-width="1.3"/>
<text class="ss" x="61.0" y="640.0" fill="#000" text-anchor="middle" style="font-size:10.6px;font-weight:bold;" >-5</text>
<line x1="78.5" y1="627.4" x2="78.5" y2="624.6" stroke="#000" stroke-width="1.3"/>
<line x1="96.3" y1="627.4" x2="96.3" y2="622.9" stroke="#000" stroke-width="1.3"/>
<text class="ss" x="96.6" y="640.0" fill="#000" text-anchor="middle" style="font-size:10.6px;font-weight:bold;" >-3</text>
<line x1="114.0" y1="627.4" x2="114.0" y2="624.6" stroke="#000" stroke-width="1.3"/>
<line x1="131.8" y1="627.4" x2="131.8" y2="622.9" stroke="#000" stroke-width="1.3"/>
<text class="ss" x="132.1" y="640.0" fill="#000" text-anchor="middle" style="font-size:10.6px;font-weight:bold;" >-1</text>
<line x1="149.6" y1="627.4" x2="149.6" y2="624.6" stroke="#000" stroke-width="1.3"/>
<line x1="167.4" y1="627.4" x2="167.4" y2="622.9" stroke="#000" stroke-width="1.3"/>
<text class="ss" x="167.4" y="640.0" fill="#000" text-anchor="middle" style="font-size:10.6px;font-weight:bold;" >1</text>
<line x1="185.2" y1="627.4" x2="185.2" y2="624.6" stroke="#000" stroke-width="1.3"/>
<line x1="202.9" y1="627.4" x2="202.9" y2="622.9" stroke="#000" stroke-width="1.3"/>
<text class="ss" x="202.9" y="640.0" fill="#000" text-anchor="middle" style="font-size:10.6px;font-weight:bold;" >3</text>
<line x1="220.7" y1="627.4" x2="220.7" y2="624.6" stroke="#000" stroke-width="1.3"/>
<line x1="238.5" y1="627.4" x2="238.5" y2="622.9" stroke="#000" stroke-width="1.3"/>
<text class="ss" x="238.5" y="640.0" fill="#000" text-anchor="middle" style="font-size:10.6px;font-weight:bold;" >5</text>
<text class="ss" x="50.0" y="361.0" fill="#000" text-anchor="start" style="font-size:14.5px;font-weight:bold;" >(b)</text>
<text class="sf" transform="translate(15.1,510) rotate(-90)" style="font-size:14.5px;font-weight:bold">I<tspan dy="5.4" style="font-size:8.5px">D</tspan><tspan dy="-5.4"> (mA)</tspan></text>
<text class="sf" x="129.5" y="662" style="font-size:14.5px;font-weight:bold">V<tspan dy="5.3" style="font-size:8.6px">G</tspan><tspan dy="-5.3"> (V)</tspan></text>
<line x1="174" y1="421" x2="202.5" y2="421" stroke="#6a6acc" stroke-width="1.5"/>
<text class="sf" x="206.3" y="425.3" style="font-size:12.8px;font-weight:bold">g<tspan dy="4.6" style="font-size:7.5px">m</tspan><tspan dy="-4.6"> fit</tspan></text>
<text class="sf" x="206.3" y="445.0" style="font-size:12.6px;font-weight:bold">V<tspan dy="5.2" style="font-size:7.8px">SD</tspan><tspan dy="-5.2">=2V</tspan></text>
<path d="M188.6,437.8 L191.5,440.7 L188.6,443.6 L185.7,440.7Z" fill="none" stroke="#ff48ff" stroke-width="0.7"/>
<text class="sf" x="206.3" y="464.8" style="font-size:12.6px;font-weight:bold">V<tspan dy="5.2" style="font-size:7.8px">SD</tspan><tspan dy="-5.2">=1V</tspan></text>
<path d="M188.60,457.85 L189.28,459.52 L191.07,459.65 L189.69,460.81 L190.13,462.55 L188.60,461.60 L187.07,462.55 L187.51,460.81 L186.13,459.65 L187.92,459.52Z" fill="none" stroke="#ff4aa0" stroke-width="0.65"/>
<text class="sf" x="206.3" y="484.5" style="font-size:12.6px;font-weight:bold">V<tspan dy="5.2" style="font-size:7.8px">SD</tspan><tspan dy="-5.2">=0V</tspan></text>
<path d="M188.6,477.5 L191.3,482.2 L185.9,482.2Z" fill="none" stroke="#aaaa58" stroke-width="0.7"/>
<text class="sf" x="206.3" y="504.2" style="font-size:12.6px;font-weight:bold">V<tspan dy="5.2" style="font-size:7.8px">SD</tspan><tspan dy="-5.2">=-1V</tspan></text>
<path d="M188.6,502.6 L191.3,497.9 L185.9,497.9Z" fill="none" stroke="#5a5aff" stroke-width="0.65"/>
<text class="sf" x="206.3" y="524.0" style="font-size:12.6px;font-weight:bold">V<tspan dy="5.2" style="font-size:7.8px">SD</tspan><tspan dy="-5.2">=-2V</tspan></text>
<circle cx="188.6" cy="519.7" r="1.55" fill="none" stroke="#a040ff" stroke-width="0.7"/>
<text class="sf" x="206.3" y="543.8" style="font-size:12.6px;font-weight:bold">V<tspan dy="5.2" style="font-size:7.8px">SD</tspan><tspan dy="-5.2">=-3V</tspan></text>
<path d="M188.60,536.95 L189.22,538.60 L190.98,538.68 L189.60,539.77 L190.07,541.47 L188.60,540.50 L187.13,541.47 L187.60,539.77 L186.22,538.68 L187.98,538.60Z" fill="#0a7f7f" stroke="#0a7f7f" stroke-width="0.3"/>
<text class="sf" x="77.8" y="371" style="font-size:11px;font-weight:bold;font-style:italic">g<tspan dy="1.5" style="font-size:6.5px">m</tspan></text>
<text class="sf" x="92.5" y="371.5" fill="#000" text-anchor="start" style="font-size:10px;font-weight:normal;" >=</text>
<path d="M99.7,353.7 V383.3 M123.9,353.7 V383.3 M100.9,369 H123" stroke="#333" stroke-width="0.7" fill="none"/>
<text class="sf" x="103.3" y="364.8" style="font-size:10px;font-weight:bold"><tspan style="font-weight:normal;font-style:italic">∂</tspan> I<tspan dy="1.5" style="font-size:6px">D</tspan></text>
<text class="sf" x="103.3" y="379.6" style="font-size:10px;font-weight:bold"><tspan style="font-weight:normal;font-style:italic">∂</tspan> V<tspan dy="1.5" style="font-size:6px">G</tspan></text>
<text class="sf" x="126.3" y="383.6" style="font-size:5.5px;font-weight:bold">V<tspan dy="1" style="font-size:3.8px">SD</tspan><tspan dy="-1"> =2V</tspan></text>
<text class="sf" x="77.3" y="405.6" style="font-size:11px;font-weight:normal" textLength="80.3" lengthAdjust="spacingAndGlyphs">= (1.25 ± 0.08) × 10</text>
<text class="sf" x="158.3" y="400.3" fill="#000" text-anchor="start" style="font-size:6.5px;font-weight:normal;" >−4</text>
<text class="sf" x="169.3" y="406.0" fill="#000" text-anchor="start" style="font-size:11px;font-weight:normal;" >(</text>
<text class="sf" x="183.2" y="406.0" fill="#000" text-anchor="start" style="font-size:11px;font-weight:normal;" >)</text>
<line x1="172" y1="402.7" x2="182.5" y2="402.7" stroke="#333" stroke-width="0.7"/>
<text class="sf" x="177.3" y="400.2" fill="#000" text-anchor="middle" style="font-size:9px;font-weight:bold;" >A</text>
<text class="sf" x="177.3" y="412.3" fill="#000" text-anchor="middle" style="font-size:9px;font-weight:bold;" >V</text>
<text class="ss" x="279.0" y="360.8" fill="#000" text-anchor="start" style="font-size:14.5px;font-weight:bold;" >(c)</text>
<rect x="315.5" y="348.7" width="89.9" height="85.2" fill="#000" stroke="#1414ff" stroke-width="1.4"/>
<path d="M325.4,350.9 V425.2 M344.1,350.9 V425.2 M362.6,350.9 V425.2 M381.3,350.9 V425.2 M400.1,350.9 V425.2 M325.4,350.8 H400.1 M325.4,358.5 H400.1 M325.4,373.2 H400.1 M325.4,387.9 H400.1 M325.4,402.5 H400.1 M325.4,417 H400.1 M325.4,425 H400.1 " stroke="#8a8a8a" stroke-width="0.55" fill="none"/>
<path d="M325.4,387.9 L325.9,385.6 L326.3,383.3 L326.8,381.0 L327.3,378.8 L327.7,376.6 L328.2,374.5 L328.7,372.5 L329.2,370.6 L329.6,368.8 L330.1,367.1 L330.6,365.5 L331.0,364.1 L331.5,362.8 L332.0,361.7 L332.4,360.7 L332.9,360.0 L333.4,359.4 L333.9,358.9 L334.3,358.7 L334.8,358.6 L335.3,358.7 L335.7,359.0 L336.2,359.5 L336.7,360.1 L337.1,361.0 L337.6,362.0 L338.1,363.1 L338.6,364.4 L339.0,365.9 L339.5,367.5 L340.0,369.2 L340.4,371.1 L340.9,373.0 L341.4,375.0 L341.8,377.2 L342.3,379.3 L342.8,381.6 L343.3,383.9 L343.7,386.2 L344.2,388.5 L344.7,390.8 L345.1,393.1 L345.6,395.3 L346.1,397.6 L346.5,399.7 L347.0,401.8 L347.5,403.8 L348.0,405.7 L348.4,407.5 L348.9,409.1 L349.4,410.7 L349.8,412.0 L350.3,413.3 L350.8,414.4 L351.2,415.3 L351.7,416.0 L352.2,416.6 L352.6,417.0 L353.1,417.2 L353.6,417.2 L354.1,417.0 L354.5,416.7 L355.0,416.2 L355.5,415.5 L355.9,414.6 L356.4,413.6 L356.9,412.4 L357.3,411.0 L357.8,409.5 L358.3,407.9 L358.8,406.1 L359.2,404.3 L359.7,402.3 L360.2,400.2 L360.6,398.1 L361.1,395.9 L361.6,393.7 L362.0,391.4 L362.5,389.1 L363.0,386.7 L363.5,384.4 L363.9,382.1 L364.4,379.9 L364.9,377.7 L365.3,375.6 L365.8,373.5 L366.3,371.5 L366.7,369.7 L367.2,367.9 L367.7,366.3 L368.2,364.8 L368.6,363.4 L369.1,362.2 L369.6,361.2 L370.0,360.3 L370.5,359.6 L371.0,359.1 L371.4,358.8 L371.9,358.6 L372.4,358.6 L372.9,358.8 L373.3,359.2 L373.8,359.8 L374.3,360.5 L374.7,361.4 L375.2,362.5 L375.7,363.8 L376.1,365.1 L376.6,366.7 L377.1,368.3 L377.5,370.1 L378.0,372.0 L378.5,374.0 L379.0,376.1 L379.4,378.2 L379.9,380.5 L380.4,382.7 L380.8,385.0 L381.3,387.3 L381.8,389.6 L382.2,391.9 L382.7,394.2 L383.2,396.5 L383.7,398.6 L384.1,400.8 L384.6,402.8 L385.1,404.7 L385.5,406.6 L386.0,408.3 L386.5,409.9 L386.9,411.4 L387.4,412.7 L387.9,413.8 L388.4,414.8 L388.8,415.7 L389.3,416.3 L389.8,416.8 L390.2,417.1 L390.7,417.2 L391.2,417.1 L391.6,416.9 L392.1,416.4 L392.6,415.8 L393.1,415.1 L393.5,414.1 L394.0,413.0 L394.5,411.7 L394.9,410.3 L395.4,408.7 L395.9,407.0 L396.3,405.2 L396.8,403.3 L397.3,401.3 L397.8,399.2 L398.2,397.0 L398.7,394.8 L399.2,392.5 L399.6,390.2 L400.1,387.9" stroke="#2c8c2c" stroke-width="0.8" fill="none"/>
<text class="ss" x="324.3" y="359.3" fill="#aaa" text-anchor="end" style="font-size:2.4px;font-weight:normal;" >2</text>
<text class="ss" x="324.3" y="374.0" fill="#aaa" text-anchor="end" style="font-size:2.4px;font-weight:normal;" >1</text>
<text class="ss" x="324.3" y="388.7" fill="#aaa" text-anchor="end" style="font-size:2.4px;font-weight:normal;" >0</text>
<text class="ss" x="324.3" y="403.3" fill="#aaa" text-anchor="end" style="font-size:2.4px;font-weight:normal;" >-1</text>
<text class="ss" x="324.3" y="417.8" fill="#aaa" text-anchor="end" style="font-size:2.4px;font-weight:normal;" >-2</text>
<text class="ss" x="325.6" y="428.0" fill="#aaa" text-anchor="middle" style="font-size:2.4px;font-weight:normal;" >0</text>
<text class="ss" x="344.1" y="428.0" fill="#aaa" text-anchor="middle" style="font-size:2.4px;font-weight:normal;" >500</text>
<text class="ss" x="362.9" y="428.0" fill="#aaa" text-anchor="middle" style="font-size:2.4px;font-weight:normal;" >1</text>
<text class="ss" x="381.5" y="428.0" fill="#aaa" text-anchor="middle" style="font-size:2.4px;font-weight:normal;" >1.5</text>
<text class="ss" x="400.3" y="428.0" fill="#aaa" text-anchor="middle" style="font-size:2.4px;font-weight:normal;" >2</text>
<text class="ss" x="362.9" y="431.0" fill="#bbb" text-anchor="middle" style="font-size:2.8px;font-weight:normal;" >(mSec)</text>
<text class="ss" x="321.0" y="389.0" fill="#aaa" text-anchor="middle" style="font-size:2.4px;font-weight:normal;" >[V]</text>
<text class="sf" x="412.8" y="375.5" fill="#1a1aff" style="font-size:12.5px;font-weight:bold">V<tspan dy="2.3" style="font-size:8px">P</tspan><tspan dy="-2.3">= 2 mV</tspan></text>
<text class="sf" x="415.8" y="390.7" fill="#1a1aff" style="font-size:12.5px;font-weight:bold"><tspan style="font-style:italic">f</tspan>=1 kHz</text>
<path d="M309.9,425.7 L277.1,530.6 H288" stroke="#1414ff" stroke-width="1.2" fill="none"/>
<path d="M296.2,530.6 L286.6,527.6 L286.6,533.6 Z" fill="#1414ff"/>
<text class="sf" x="282.8" y="548.0" fill="#1414ff" text-anchor="start" style="font-size:12.5px;font-weight:bold;" >I/P</text>
<rect x="412.3" y="520" width="113.2" height="112" fill="#000" stroke="#ff1010" stroke-width="1.8"/>
<path d="M428.7,527.5 V620.2 M428.7,527.5 H522 M452.0,527.5 V620.2 M428.7,550.7 H522 M475.4,527.5 V620.2 M428.7,573.9 H522 M498.7,527.5 V620.2 M428.7,597.0 H522 M522.0,527.5 V620.2 M428.7,620.2 H522 " stroke="#8a8a8a" stroke-width="0.6" fill="none"/>
<path d="M428.7,573.9 L429.2,576.8 L429.6,579.7 L430.1,582.6 L430.6,585.4 L431.0,588.2 L431.5,591.0 L432.0,593.7 L432.5,596.3 L432.9,598.8 L433.4,601.2 L433.9,603.5 L434.3,605.7 L434.8,607.8 L435.3,609.7 L435.7,611.5 L436.2,613.1 L436.7,614.6 L437.1,615.9 L437.6,617.0 L438.1,618.0 L438.5,618.8 L439.0,619.4 L439.5,619.9 L440.0,620.1 L440.4,620.2 L440.9,620.1 L441.4,619.8 L441.8,619.3 L442.3,618.6 L442.8,617.8 L443.2,616.8 L443.7,615.6 L444.2,614.2 L444.6,612.7 L445.1,611.0 L445.6,609.2 L446.0,607.3 L446.5,605.2 L447.0,603.0 L447.5,600.6 L447.9,598.2 L448.4,595.6 L448.9,593.0 L449.3,590.3 L449.8,587.5 L450.3,584.7 L450.7,581.9 L451.2,579.0 L451.7,576.0 L452.1,573.1 L452.6,570.2 L453.1,567.3 L453.5,564.4 L454.0,561.6 L454.5,558.8 L455.0,556.0 L455.4,553.4 L455.9,550.8 L456.4,548.3 L456.8,545.9 L457.3,543.6 L457.8,541.5 L458.2,539.4 L458.7,537.5 L459.2,535.8 L459.6,534.2 L460.1,532.8 L460.6,531.5 L461.1,530.4 L461.5,529.5 L462.0,528.7 L462.5,528.1 L462.9,527.7 L463.4,527.5 L463.9,527.5 L464.3,527.7 L464.8,528.0 L465.3,528.5 L465.7,529.3 L466.2,530.1 L466.7,531.2 L467.1,532.4 L467.6,533.8 L468.1,535.4 L468.6,537.1 L469.0,539.0 L469.5,540.9 L470.0,543.1 L470.4,545.3 L470.9,547.7 L471.4,550.1 L471.8,552.7 L472.3,555.4 L472.8,558.1 L473.2,560.9 L473.7,563.7 L474.2,566.6 L474.6,569.5 L475.1,572.4 L475.6,575.3 L476.1,578.2 L476.5,581.1 L477.0,584.0 L477.5,586.8 L477.9,589.6 L478.4,592.3 L478.9,595.0 L479.3,597.6 L479.8,600.0 L480.3,602.4 L480.7,604.6 L481.2,606.8 L481.7,608.7 L482.1,610.6 L482.6,612.3 L483.1,613.9 L483.6,615.3 L484.0,616.5 L484.5,617.6 L485.0,618.4 L485.4,619.2 L485.9,619.7 L486.4,620.0 L486.8,620.2 L487.3,620.2 L487.8,620.0 L488.2,619.6 L488.7,619.0 L489.2,618.2 L489.6,617.3 L490.1,616.2 L490.6,614.9 L491.1,613.5 L491.5,611.9 L492.0,610.2 L492.5,608.3 L492.9,606.2 L493.4,604.1 L493.9,601.8 L494.3,599.4 L494.8,596.9 L495.3,594.3 L495.7,591.7 L496.2,588.9 L496.7,586.1 L497.2,583.3 L497.6,580.4 L498.1,577.5 L498.6,574.6 L499.0,571.7 L499.5,568.7 L500.0,565.8 L500.4,563.0 L500.9,560.2 L501.4,557.4 L501.8,554.7 L502.3,552.1 L502.8,549.5 L503.2,547.1 L503.7,544.7 L504.2,542.5 L504.7,540.4 L505.1,538.5 L505.6,536.7 L506.1,535.0 L506.5,533.5 L507.0,532.1 L507.5,530.9 L507.9,529.9 L508.4,529.1 L508.9,528.4 L509.3,527.9 L509.8,527.6 L510.3,527.5 L510.7,527.6 L511.2,527.8 L511.7,528.3 L512.2,528.9 L512.6,529.7 L513.1,530.7 L513.6,531.8 L514.0,533.1 L514.5,534.6 L515.0,536.2 L515.4,538.0 L515.9,539.9 L516.4,542.0 L516.8,544.2 L517.3,546.5 L517.8,548.9 L518.2,551.4 L518.7,554.0 L519.2,556.7 L519.7,559.5 L520.1,562.3 L520.6,565.1 L521.1,568.0 L521.5,570.9 L522.0,573.9" stroke="#2a8a2a" stroke-width="0.8" stroke-dasharray="1.2 0.5" fill="none"/>
<text class="ss" x="427.6" y="528.4" fill="#aaa" text-anchor="end" style="font-size:2.4px;font-weight:normal;" >3.077</text>
<text class="ss" x="427.6" y="551.6" fill="#aaa" text-anchor="end" style="font-size:2.4px;font-weight:normal;" >3.076</text>
<text class="ss" x="427.6" y="574.8" fill="#aaa" text-anchor="end" style="font-size:2.4px;font-weight:normal;" >3.075</text>
<text class="ss" x="427.6" y="597.9" fill="#aaa" text-anchor="end" style="font-size:2.4px;font-weight:normal;" >3.074</text>
<text class="ss" x="427.6" y="621.1" fill="#aaa" text-anchor="end" style="font-size:2.4px;font-weight:normal;" >3.073</text>
<text class="ss" x="428.7" y="623.6" fill="#aaa" text-anchor="middle" style="font-size:2.4px;font-weight:normal;" >0</text>
<text class="ss" x="452.0" y="623.6" fill="#aaa" text-anchor="middle" style="font-size:2.4px;font-weight:normal;" >0.5</text>
<text class="ss" x="475.4" y="623.6" fill="#aaa" text-anchor="middle" style="font-size:2.4px;font-weight:normal;" >1</text>
<text class="ss" x="498.7" y="623.6" fill="#aaa" text-anchor="middle" style="font-size:2.4px;font-weight:normal;" >1.5</text>
<text class="ss" x="522.0" y="623.6" fill="#aaa" text-anchor="middle" style="font-size:2.4px;font-weight:normal;" >2</text>
<text class="ss" x="475.4" y="627.8" fill="#bbb" text-anchor="middle" style="font-size:3px;font-weight:normal;" >(mSec)</text>
<text class="ss" x="417.5" y="575.0" fill="#aaa" text-anchor="middle" style="font-size:2.4px;font-weight:normal;" >[V]</text>
<path d="M330.7,480.2 V490 L330.7,490 L334.5,492.1 L326.9,496.4 L334.5,500.6 L326.9,504.9 L334.5,509.1 L326.9,513.4 L330.7,515.5 V558.5 L330.7,558.5 L334.5,560.6 L326.9,564.9 L334.5,569.2 L326.9,573.5 L334.5,577.8 L326.9,582.1 L330.7,584.2 V588.5 H376.9" stroke="#000" stroke-width="1.2" fill="none" stroke-linejoin="miter"/>
<path d="M307.4,530.3 H317.3 M317.3,525.9 V534.7 M321.3,525.6 Q318.6,530.3 321.3,535 M319.9,530.3 H346 M350.7,530.3 H366.8" stroke="#000" stroke-width="1.2" fill="none"/>
<path d="M377,482.2 V505.5 M377,510.1 V524.2 H366.8 M366.8,523.6 V537.3 M366.8,536.7 H377 V550.2 M377,554.9 V557 L377,557 L380.8,559.3 L373.2,563.8 L380.8,568.3 L373.2,572.9 L380.8,577.4 L373.2,581.9 L377,584.2 V602 M371.3,602 H381 M373.4,602 L370.6,606.4 M377,602 L374.2,606.4 M380.6,602 L377.8,606.4" stroke="#000" stroke-width="1.2" fill="none"/>
<circle cx="373.3" cy="530.4" r="11.4" fill="none" stroke="#000" stroke-width="0.9"/>
<circle cx="330.7" cy="477.9" r="2.3" fill="#fff" stroke="#000" stroke-width="1"/>
<circle cx="377" cy="479.9" r="2.3" fill="#fff" stroke="#000" stroke-width="1"/>
<circle cx="377" cy="507.8" r="2.3" fill="#fff" stroke="#000" stroke-width="1"/>
<circle cx="305.1" cy="530.3" r="2.3" fill="#fff" stroke="#000" stroke-width="1"/>
<circle cx="348.4" cy="530.3" r="2.3" fill="#fff" stroke="#000" stroke-width="1"/>
<circle cx="377" cy="552.5" r="2.3" fill="#fff" stroke="#000" stroke-width="1"/>
<circle cx="330.7" cy="530.3" r="2.8" fill="#000"/><circle cx="377" cy="588.4" r="2.8" fill="#000"/>
<text class="sf" x="333.0" y="472.8" fill="#000" text-anchor="middle" style="font-size:13px;font-weight:bold;" >+5V</text>
<text class="sf" x="377.2" y="472.8" fill="#000" text-anchor="middle" style="font-size:13px;font-weight:bold;" >+5V</text>
<text class="sf" x="294.0" y="507.8" fill="#000" text-anchor="start" style="font-size:13px;font-weight:bold;" >33k<tspan style="font-weight:normal">Ω</tspan></text>
<text class="sf" x="294.0" y="572.8" fill="#000" text-anchor="start" style="font-size:13px;font-weight:bold;" >22k<tspan style="font-weight:normal">Ω</tspan></text>
<text class="sf" x="337.5" y="573.6" fill="#000" text-anchor="start" style="font-size:13px;font-weight:bold;" >8.2k<tspan style="font-weight:normal">Ω</tspan></text>
<text class="sf" x="351.6" y="524.0" fill="#000" text-anchor="start" style="font-size:12.5px;font-weight:bold;" >G</text>
<text class="sf" x="382.0" y="520.4" fill="#000" text-anchor="start" style="font-size:12.5px;font-weight:bold;" >S</text>
<text class="sf" x="382.0" y="547.7" fill="#000" text-anchor="start" style="font-size:12.5px;font-weight:bold;" >D</text>
<text class="sf" x="389.8" y="492.6" fill="#000" text-anchor="start" style="font-size:12.6px;font-weight:bold;" >InSe ML</text>
<text class="sf" x="395" y="507.8" style="font-size:12.6px;font-weight:bold"><tspan style="font-style:italic">p</tspan>-FET</text>
<line x1="408" y1="554.3" x2="393" y2="554.3" stroke="#ff1010" stroke-width="1.3"/><path d="M386.3,554.3 L394.4,551.3 L394.4,557.3 Z" fill="#ff1010"/>
<text class="sf" x="387.8" y="569.1" fill="#ff1010" text-anchor="start" style="font-size:13px;font-weight:bold;" >O/P</text>
<line x1="384.2" y1="573.3" x2="384.2" y2="589" stroke="#000" stroke-width="1"/><path d="M384.2,595.4 L381.6,588.2 L386.8,588.2 Z" fill="#000"/>
<text class="sf" x="390.3" y="589" style="font-size:12.5px;font-weight:bold">I<tspan dy="2" style="font-size:8px">D</tspan></text>
<text class="sf" x="300.3" y="616.1" fill="#000" text-anchor="start" style="font-size:15.5px;font-weight:bold;" >Inverter</text>
<text class="sf" x="312" y="653" fill="#ff1010" style="font-size:12.5px;font-weight:bold" textLength="197.5" lengthAdjust="spacingAndGlyphs">V<tspan dy="2" style="font-size:7.5px">o</tspan><tspan dy="-2">(</tspan><tspan style="font-style:italic">t</tspan>)= 3.075-0.002sin(2π.1000Hz.<tspan style="font-style:italic">t</tspan>) V</text>
</svg>
</body></html>
